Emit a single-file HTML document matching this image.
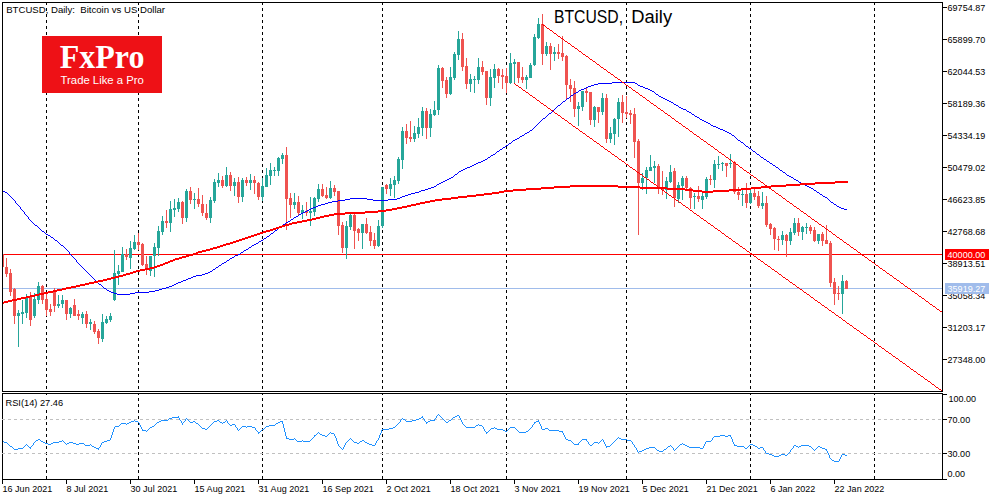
<!DOCTYPE html>
<html><head><meta charset="utf-8"><title>BTCUSD, Daily</title><style>
html,body{margin:0;padding:0;background:#fff;overflow:hidden;width:1000px;height:500px;}
svg{display:block;}
</style></head><body>
<svg width="1000" height="500" viewBox="0 0 1000 500">
<rect width="1000" height="500" fill="#fff"/>
<g shape-rendering="crispEdges" fill="none" stroke="#000" stroke-width="1">
<rect x="2.5" y="2.5" width="940" height="389"/>
<rect x="2.5" y="393.5" width="940" height="86"/>
</g>
<g shape-rendering="crispEdges" stroke="#000" stroke-width="1" stroke-dasharray="3 3">
<line x1="46.5" y1="2" x2="46.5" y2="391"/>
<line x1="46.5" y1="393" x2="46.5" y2="479" stroke-dashoffset="1"/>
<line x1="138.5" y1="2" x2="138.5" y2="391"/>
<line x1="138.5" y1="393" x2="138.5" y2="479" stroke-dashoffset="1"/>
<line x1="262.5" y1="2" x2="262.5" y2="391"/>
<line x1="262.5" y1="393" x2="262.5" y2="479" stroke-dashoffset="1"/>
<line x1="382.5" y1="2" x2="382.5" y2="391"/>
<line x1="382.5" y1="393" x2="382.5" y2="479" stroke-dashoffset="1"/>
<line x1="506.5" y1="2" x2="506.5" y2="391"/>
<line x1="506.5" y1="393" x2="506.5" y2="479" stroke-dashoffset="1"/>
<line x1="626.5" y1="2" x2="626.5" y2="391"/>
<line x1="626.5" y1="393" x2="626.5" y2="479" stroke-dashoffset="1"/>
<line x1="750.5" y1="2" x2="750.5" y2="391"/>
<line x1="750.5" y1="393" x2="750.5" y2="479" stroke-dashoffset="1"/>
<line x1="874.5" y1="2" x2="874.5" y2="391"/>
<line x1="874.5" y1="393" x2="874.5" y2="479" stroke-dashoffset="1"/>
</g>
<g shape-rendering="crispEdges" stroke="#C0C0C0" stroke-width="1" stroke-dasharray="3 3">
<line x1="2" y1="419.5" x2="942" y2="419.5"/>
<line x1="2" y1="453.5" x2="942" y2="453.5"/>
</g>
<g shape-rendering="crispEdges" stroke-width="1">
<line x1="3" y1="254.5" x2="942" y2="254.5" stroke="#FF0000"/>
<line x1="3" y1="288.5" x2="942" y2="288.5" stroke="#A0BCEB"/>
</g>
<defs><clipPath id="mp"><rect x="3" y="3" width="939" height="388"/></clipPath></defs>
<g shape-rendering="crispEdges" clip-path="url(#mp)">
<rect x="2" y="254" width="1" height="13" fill="#EF5350"/>
<rect x="1" y="254" width="3" height="13" fill="#EF5350"/>
<rect x="6" y="258" width="1" height="19" fill="#EF5350"/>
<rect x="5" y="267" width="3" height="7" fill="#EF5350"/>
<rect x="10" y="269" width="1" height="27" fill="#EF5350"/>
<rect x="9" y="273" width="3" height="19" fill="#EF5350"/>
<rect x="14" y="288" width="1" height="36" fill="#EF5350"/>
<rect x="13" y="289" width="3" height="27" fill="#EF5350"/>
<rect x="18" y="310" width="1" height="37" fill="#26A69A"/>
<rect x="17" y="313" width="3" height="3" fill="#26A69A"/>
<rect x="22" y="300" width="1" height="24" fill="#26A69A"/>
<rect x="21" y="312" width="3" height="2" fill="#26A69A"/>
<rect x="26" y="294" width="1" height="24" fill="#26A69A"/>
<rect x="25" y="298" width="3" height="15" fill="#26A69A"/>
<rect x="30" y="292" width="1" height="34" fill="#EF5350"/>
<rect x="29" y="297" width="3" height="23" fill="#EF5350"/>
<rect x="34" y="293" width="1" height="25" fill="#26A69A"/>
<rect x="33" y="299" width="3" height="17" fill="#26A69A"/>
<rect x="38" y="282" width="1" height="22" fill="#26A69A"/>
<rect x="37" y="286" width="3" height="14" fill="#26A69A"/>
<rect x="42" y="285" width="1" height="19" fill="#EF5350"/>
<rect x="41" y="286" width="3" height="14" fill="#EF5350"/>
<rect x="46" y="293" width="1" height="23" fill="#EF5350"/>
<rect x="45" y="299" width="3" height="11" fill="#EF5350"/>
<rect x="50" y="304" width="1" height="12" fill="#EF5350"/>
<rect x="49" y="309" width="3" height="3" fill="#EF5350"/>
<rect x="54" y="288" width="1" height="24" fill="#EF5350"/>
<rect x="53" y="292" width="3" height="14" fill="#EF5350"/>
<rect x="58" y="295" width="1" height="13" fill="#26A69A"/>
<rect x="57" y="304" width="3" height="2" fill="#26A69A"/>
<rect x="62" y="295" width="1" height="13" fill="#26A69A"/>
<rect x="61" y="300" width="3" height="4" fill="#26A69A"/>
<rect x="66" y="300" width="1" height="20" fill="#EF5350"/>
<rect x="65" y="300" width="3" height="14" fill="#EF5350"/>
<rect x="70" y="307" width="1" height="11" fill="#26A69A"/>
<rect x="69" y="308" width="3" height="6" fill="#26A69A"/>
<rect x="74" y="299" width="1" height="17" fill="#EF5350"/>
<rect x="73" y="305" width="3" height="11" fill="#EF5350"/>
<rect x="78" y="310" width="1" height="10" fill="#EF5350"/>
<rect x="77" y="314" width="3" height="2" fill="#EF5350"/>
<rect x="82" y="312" width="1" height="12" fill="#26A69A"/>
<rect x="81" y="314" width="3" height="4" fill="#26A69A"/>
<rect x="86" y="311" width="1" height="17" fill="#EF5350"/>
<rect x="85" y="314" width="3" height="10" fill="#EF5350"/>
<rect x="90" y="319" width="1" height="11" fill="#26A69A"/>
<rect x="89" y="322" width="3" height="2" fill="#26A69A"/>
<rect x="94" y="321" width="1" height="13" fill="#EF5350"/>
<rect x="93" y="324" width="3" height="8" fill="#EF5350"/>
<rect x="98" y="329" width="1" height="15" fill="#EF5350"/>
<rect x="97" y="331" width="3" height="7" fill="#EF5350"/>
<rect x="102" y="314" width="1" height="28" fill="#26A69A"/>
<rect x="101" y="322" width="3" height="17" fill="#26A69A"/>
<rect x="106" y="316" width="1" height="8" fill="#26A69A"/>
<rect x="105" y="319" width="3" height="4" fill="#26A69A"/>
<rect x="110" y="313" width="1" height="9" fill="#26A69A"/>
<rect x="109" y="316" width="3" height="4" fill="#26A69A"/>
<rect x="114" y="250" width="1" height="51" fill="#26A69A"/>
<rect x="113" y="273" width="3" height="27" fill="#26A69A"/>
<rect x="118" y="265" width="1" height="20" fill="#26A69A"/>
<rect x="117" y="271" width="3" height="3" fill="#26A69A"/>
<rect x="122" y="247" width="1" height="25" fill="#26A69A"/>
<rect x="121" y="254" width="3" height="18" fill="#26A69A"/>
<rect x="126" y="249" width="1" height="11" fill="#EF5350"/>
<rect x="125" y="254" width="3" height="3" fill="#EF5350"/>
<rect x="130" y="241" width="1" height="28" fill="#26A69A"/>
<rect x="129" y="248" width="3" height="10" fill="#26A69A"/>
<rect x="134" y="235" width="1" height="15" fill="#26A69A"/>
<rect x="133" y="242" width="3" height="7" fill="#26A69A"/>
<rect x="138" y="233" width="1" height="17" fill="#EF5350"/>
<rect x="137" y="242" width="3" height="3" fill="#EF5350"/>
<rect x="142" y="243" width="1" height="23" fill="#EF5350"/>
<rect x="141" y="244" width="3" height="21" fill="#EF5350"/>
<rect x="146" y="256" width="1" height="19" fill="#EF5350"/>
<rect x="145" y="264" width="3" height="4" fill="#EF5350"/>
<rect x="150" y="256" width="1" height="20" fill="#26A69A"/>
<rect x="149" y="256" width="3" height="15" fill="#26A69A"/>
<rect x="154" y="243" width="1" height="34" fill="#26A69A"/>
<rect x="153" y="247" width="3" height="9" fill="#26A69A"/>
<rect x="158" y="226" width="1" height="30" fill="#26A69A"/>
<rect x="157" y="231" width="3" height="17" fill="#26A69A"/>
<rect x="162" y="216" width="1" height="19" fill="#26A69A"/>
<rect x="161" y="221" width="3" height="11" fill="#26A69A"/>
<rect x="166" y="210" width="1" height="18" fill="#EF5350"/>
<rect x="165" y="221" width="3" height="2" fill="#EF5350"/>
<rect x="170" y="201" width="1" height="31" fill="#26A69A"/>
<rect x="169" y="209" width="3" height="14" fill="#26A69A"/>
<rect x="174" y="199" width="1" height="18" fill="#26A69A"/>
<rect x="173" y="208" width="3" height="2" fill="#26A69A"/>
<rect x="178" y="198" width="1" height="14" fill="#26A69A"/>
<rect x="177" y="202" width="3" height="7" fill="#26A69A"/>
<rect x="182" y="201" width="1" height="23" fill="#EF5350"/>
<rect x="181" y="202" width="3" height="16" fill="#EF5350"/>
<rect x="186" y="189" width="1" height="33" fill="#26A69A"/>
<rect x="185" y="191" width="3" height="27" fill="#26A69A"/>
<rect x="190" y="187" width="1" height="17" fill="#EF5350"/>
<rect x="189" y="191" width="3" height="9" fill="#EF5350"/>
<rect x="194" y="193" width="1" height="16" fill="#26A69A"/>
<rect x="193" y="199" width="3" height="1" fill="#26A69A"/>
<rect x="198" y="188" width="1" height="19" fill="#EF5350"/>
<rect x="197" y="199" width="3" height="5" fill="#EF5350"/>
<rect x="202" y="195" width="1" height="21" fill="#EF5350"/>
<rect x="201" y="204" width="3" height="9" fill="#EF5350"/>
<rect x="206" y="204" width="1" height="16" fill="#EF5350"/>
<rect x="205" y="213" width="3" height="5" fill="#EF5350"/>
<rect x="210" y="197" width="1" height="26" fill="#26A69A"/>
<rect x="209" y="200" width="3" height="18" fill="#26A69A"/>
<rect x="214" y="179" width="1" height="24" fill="#26A69A"/>
<rect x="213" y="182" width="3" height="19" fill="#26A69A"/>
<rect x="218" y="173" width="1" height="14" fill="#26A69A"/>
<rect x="217" y="180" width="3" height="3" fill="#26A69A"/>
<rect x="222" y="176" width="1" height="12" fill="#EF5350"/>
<rect x="221" y="180" width="3" height="6" fill="#EF5350"/>
<rect x="226" y="167" width="1" height="20" fill="#26A69A"/>
<rect x="225" y="175" width="3" height="11" fill="#26A69A"/>
<rect x="230" y="172" width="1" height="19" fill="#EF5350"/>
<rect x="229" y="175" width="3" height="11" fill="#EF5350"/>
<rect x="234" y="178" width="1" height="18" fill="#26A69A"/>
<rect x="233" y="182" width="3" height="4" fill="#26A69A"/>
<rect x="238" y="177" width="1" height="26" fill="#EF5350"/>
<rect x="237" y="182" width="3" height="15" fill="#EF5350"/>
<rect x="242" y="178" width="1" height="24" fill="#26A69A"/>
<rect x="241" y="180" width="3" height="17" fill="#26A69A"/>
<rect x="246" y="177" width="1" height="9" fill="#EF5350"/>
<rect x="245" y="180" width="3" height="3" fill="#EF5350"/>
<rect x="250" y="174" width="1" height="16" fill="#26A69A"/>
<rect x="249" y="180" width="3" height="3" fill="#26A69A"/>
<rect x="254" y="176" width="1" height="18" fill="#EF5350"/>
<rect x="253" y="180" width="3" height="3" fill="#EF5350"/>
<rect x="258" y="182" width="1" height="18" fill="#EF5350"/>
<rect x="257" y="183" width="3" height="14" fill="#EF5350"/>
<rect x="262" y="178" width="1" height="23" fill="#26A69A"/>
<rect x="261" y="186" width="3" height="11" fill="#26A69A"/>
<rect x="266" y="168" width="1" height="19" fill="#26A69A"/>
<rect x="265" y="175" width="3" height="12" fill="#26A69A"/>
<rect x="270" y="163" width="1" height="22" fill="#26A69A"/>
<rect x="269" y="170" width="3" height="6" fill="#26A69A"/>
<rect x="274" y="167" width="1" height="9" fill="#26A69A"/>
<rect x="273" y="170" width="3" height="1" fill="#26A69A"/>
<rect x="278" y="157" width="1" height="19" fill="#26A69A"/>
<rect x="277" y="158" width="3" height="13" fill="#26A69A"/>
<rect x="282" y="153" width="1" height="11" fill="#26A69A"/>
<rect x="281" y="155" width="3" height="4" fill="#26A69A"/>
<rect x="286" y="147" width="1" height="83" fill="#EF5350"/>
<rect x="285" y="155" width="3" height="44" fill="#EF5350"/>
<rect x="290" y="193" width="1" height="25" fill="#EF5350"/>
<rect x="289" y="198" width="3" height="7" fill="#EF5350"/>
<rect x="294" y="193" width="1" height="16" fill="#26A69A"/>
<rect x="293" y="202" width="3" height="3" fill="#26A69A"/>
<rect x="298" y="196" width="1" height="19" fill="#EF5350"/>
<rect x="297" y="202" width="3" height="11" fill="#EF5350"/>
<rect x="302" y="205" width="1" height="14" fill="#26A69A"/>
<rect x="301" y="210" width="3" height="3" fill="#26A69A"/>
<rect x="306" y="202" width="1" height="14" fill="#EF5350"/>
<rect x="305" y="211" width="3" height="2" fill="#EF5350"/>
<rect x="310" y="197" width="1" height="29" fill="#26A69A"/>
<rect x="309" y="211" width="3" height="2" fill="#26A69A"/>
<rect x="314" y="197" width="1" height="19" fill="#26A69A"/>
<rect x="313" y="198" width="3" height="14" fill="#26A69A"/>
<rect x="318" y="184" width="1" height="18" fill="#26A69A"/>
<rect x="317" y="189" width="3" height="10" fill="#26A69A"/>
<rect x="322" y="184" width="1" height="13" fill="#EF5350"/>
<rect x="321" y="189" width="3" height="7" fill="#EF5350"/>
<rect x="326" y="187" width="1" height="12" fill="#EF5350"/>
<rect x="325" y="195" width="3" height="3" fill="#EF5350"/>
<rect x="330" y="181" width="1" height="18" fill="#26A69A"/>
<rect x="329" y="188" width="3" height="10" fill="#26A69A"/>
<rect x="334" y="185" width="1" height="11" fill="#EF5350"/>
<rect x="333" y="188" width="3" height="4" fill="#EF5350"/>
<rect x="338" y="191" width="1" height="44" fill="#EF5350"/>
<rect x="337" y="191" width="3" height="35" fill="#EF5350"/>
<rect x="342" y="222" width="1" height="31" fill="#EF5350"/>
<rect x="341" y="225" width="3" height="23" fill="#EF5350"/>
<rect x="346" y="221" width="1" height="38" fill="#26A69A"/>
<rect x="345" y="226" width="3" height="22" fill="#26A69A"/>
<rect x="350" y="214" width="1" height="16" fill="#26A69A"/>
<rect x="349" y="215" width="3" height="12" fill="#26A69A"/>
<rect x="354" y="214" width="1" height="35" fill="#EF5350"/>
<rect x="353" y="215" width="3" height="16" fill="#EF5350"/>
<rect x="358" y="228" width="1" height="13" fill="#EF5350"/>
<rect x="357" y="229" width="3" height="4" fill="#EF5350"/>
<rect x="362" y="224" width="1" height="25" fill="#26A69A"/>
<rect x="361" y="224" width="3" height="9" fill="#26A69A"/>
<rect x="366" y="218" width="1" height="16" fill="#EF5350"/>
<rect x="365" y="224" width="3" height="9" fill="#EF5350"/>
<rect x="370" y="226" width="1" height="20" fill="#EF5350"/>
<rect x="369" y="232" width="3" height="9" fill="#EF5350"/>
<rect x="374" y="233" width="1" height="16" fill="#EF5350"/>
<rect x="373" y="240" width="3" height="6" fill="#EF5350"/>
<rect x="378" y="220" width="1" height="27" fill="#26A69A"/>
<rect x="377" y="226" width="3" height="20" fill="#26A69A"/>
<rect x="382" y="187" width="1" height="41" fill="#26A69A"/>
<rect x="381" y="187" width="3" height="39" fill="#26A69A"/>
<rect x="386" y="184" width="1" height="10" fill="#EF5350"/>
<rect x="385" y="185" width="3" height="4" fill="#EF5350"/>
<rect x="390" y="178" width="1" height="18" fill="#26A69A"/>
<rect x="389" y="184" width="3" height="5" fill="#26A69A"/>
<rect x="394" y="176" width="1" height="22" fill="#26A69A"/>
<rect x="393" y="180" width="3" height="5" fill="#26A69A"/>
<rect x="398" y="157" width="1" height="27" fill="#26A69A"/>
<rect x="397" y="159" width="3" height="22" fill="#26A69A"/>
<rect x="402" y="127" width="1" height="42" fill="#26A69A"/>
<rect x="401" y="131" width="3" height="29" fill="#26A69A"/>
<rect x="406" y="124" width="1" height="20" fill="#EF5350"/>
<rect x="405" y="131" width="3" height="7" fill="#EF5350"/>
<rect x="410" y="121" width="1" height="21" fill="#EF5350"/>
<rect x="409" y="137" width="3" height="2" fill="#EF5350"/>
<rect x="414" y="126" width="1" height="16" fill="#26A69A"/>
<rect x="413" y="133" width="3" height="6" fill="#26A69A"/>
<rect x="418" y="118" width="1" height="20" fill="#26A69A"/>
<rect x="417" y="127" width="3" height="7" fill="#26A69A"/>
<rect x="422" y="107" width="1" height="29" fill="#26A69A"/>
<rect x="421" y="111" width="3" height="17" fill="#26A69A"/>
<rect x="426" y="108" width="1" height="31" fill="#EF5350"/>
<rect x="425" y="111" width="3" height="17" fill="#EF5350"/>
<rect x="430" y="109" width="1" height="28" fill="#26A69A"/>
<rect x="429" y="114" width="3" height="14" fill="#26A69A"/>
<rect x="434" y="101" width="1" height="15" fill="#26A69A"/>
<rect x="433" y="110" width="3" height="5" fill="#26A69A"/>
<rect x="438" y="65" width="1" height="50" fill="#26A69A"/>
<rect x="437" y="68" width="3" height="42" fill="#26A69A"/>
<rect x="442" y="67" width="1" height="21" fill="#EF5350"/>
<rect x="441" y="68" width="3" height="13" fill="#EF5350"/>
<rect x="446" y="77" width="1" height="21" fill="#EF5350"/>
<rect x="445" y="80" width="3" height="14" fill="#EF5350"/>
<rect x="450" y="67" width="1" height="28" fill="#26A69A"/>
<rect x="449" y="77" width="3" height="17" fill="#26A69A"/>
<rect x="454" y="52" width="1" height="28" fill="#26A69A"/>
<rect x="453" y="54" width="3" height="24" fill="#26A69A"/>
<rect x="458" y="31" width="1" height="29" fill="#26A69A"/>
<rect x="457" y="39" width="3" height="16" fill="#26A69A"/>
<rect x="462" y="33" width="1" height="38" fill="#EF5350"/>
<rect x="461" y="39" width="3" height="28" fill="#EF5350"/>
<rect x="466" y="58" width="1" height="31" fill="#EF5350"/>
<rect x="465" y="66" width="3" height="18" fill="#EF5350"/>
<rect x="470" y="74" width="1" height="18" fill="#26A69A"/>
<rect x="469" y="79" width="3" height="5" fill="#26A69A"/>
<rect x="474" y="76" width="1" height="17" fill="#26A69A"/>
<rect x="473" y="79" width="3" height="1" fill="#26A69A"/>
<rect x="478" y="58" width="1" height="26" fill="#26A69A"/>
<rect x="477" y="67" width="3" height="13" fill="#26A69A"/>
<rect x="482" y="61" width="1" height="14" fill="#EF5350"/>
<rect x="481" y="67" width="3" height="5" fill="#EF5350"/>
<rect x="486" y="71" width="1" height="34" fill="#EF5350"/>
<rect x="485" y="71" width="3" height="27" fill="#EF5350"/>
<rect x="490" y="69" width="1" height="37" fill="#26A69A"/>
<rect x="489" y="77" width="3" height="21" fill="#26A69A"/>
<rect x="494" y="64" width="1" height="24" fill="#26A69A"/>
<rect x="493" y="69" width="3" height="9" fill="#26A69A"/>
<rect x="498" y="68" width="1" height="15" fill="#EF5350"/>
<rect x="497" y="69" width="3" height="7" fill="#EF5350"/>
<rect x="502" y="69" width="1" height="20" fill="#EF5350"/>
<rect x="501" y="75" width="3" height="2" fill="#EF5350"/>
<rect x="506" y="68" width="1" height="25" fill="#EF5350"/>
<rect x="505" y="76" width="3" height="7" fill="#EF5350"/>
<rect x="510" y="53" width="1" height="31" fill="#26A69A"/>
<rect x="509" y="63" width="3" height="20" fill="#26A69A"/>
<rect x="514" y="59" width="1" height="24" fill="#26A69A"/>
<rect x="513" y="62" width="3" height="2" fill="#26A69A"/>
<rect x="518" y="62" width="1" height="21" fill="#EF5350"/>
<rect x="517" y="62" width="3" height="16" fill="#EF5350"/>
<rect x="522" y="67" width="1" height="16" fill="#EF5350"/>
<rect x="521" y="77" width="3" height="3" fill="#EF5350"/>
<rect x="526" y="75" width="1" height="14" fill="#26A69A"/>
<rect x="525" y="77" width="3" height="3" fill="#26A69A"/>
<rect x="530" y="63" width="1" height="15" fill="#26A69A"/>
<rect x="529" y="65" width="3" height="13" fill="#26A69A"/>
<rect x="534" y="34" width="1" height="32" fill="#26A69A"/>
<rect x="533" y="37" width="3" height="28" fill="#26A69A"/>
<rect x="538" y="18" width="1" height="21" fill="#26A69A"/>
<rect x="537" y="24" width="3" height="14" fill="#26A69A"/>
<rect x="542" y="14" width="1" height="51" fill="#EF5350"/>
<rect x="541" y="24" width="3" height="30" fill="#EF5350"/>
<rect x="546" y="42" width="1" height="14" fill="#26A69A"/>
<rect x="545" y="46" width="3" height="8" fill="#26A69A"/>
<rect x="550" y="43" width="1" height="27" fill="#EF5350"/>
<rect x="549" y="46" width="3" height="8" fill="#EF5350"/>
<rect x="554" y="47" width="1" height="14" fill="#26A69A"/>
<rect x="553" y="52" width="3" height="2" fill="#26A69A"/>
<rect x="558" y="44" width="1" height="15" fill="#EF5350"/>
<rect x="557" y="52" width="3" height="2" fill="#EF5350"/>
<rect x="562" y="36" width="1" height="25" fill="#EF5350"/>
<rect x="561" y="53" width="3" height="4" fill="#EF5350"/>
<rect x="566" y="55" width="1" height="45" fill="#EF5350"/>
<rect x="565" y="56" width="3" height="29" fill="#EF5350"/>
<rect x="570" y="79" width="1" height="23" fill="#EF5350"/>
<rect x="569" y="85" width="3" height="4" fill="#EF5350"/>
<rect x="574" y="81" width="1" height="36" fill="#EF5350"/>
<rect x="573" y="88" width="3" height="21" fill="#EF5350"/>
<rect x="578" y="102" width="1" height="24" fill="#26A69A"/>
<rect x="577" y="106" width="3" height="3" fill="#26A69A"/>
<rect x="582" y="91" width="1" height="20" fill="#26A69A"/>
<rect x="581" y="91" width="3" height="16" fill="#26A69A"/>
<rect x="586" y="88" width="1" height="14" fill="#EF5350"/>
<rect x="585" y="91" width="3" height="2" fill="#EF5350"/>
<rect x="590" y="92" width="1" height="33" fill="#EF5350"/>
<rect x="589" y="92" width="3" height="28" fill="#EF5350"/>
<rect x="594" y="106" width="1" height="21" fill="#26A69A"/>
<rect x="593" y="107" width="3" height="13" fill="#26A69A"/>
<rect x="598" y="107" width="1" height="16" fill="#EF5350"/>
<rect x="597" y="107" width="3" height="5" fill="#EF5350"/>
<rect x="602" y="93" width="1" height="22" fill="#26A69A"/>
<rect x="601" y="98" width="3" height="14" fill="#26A69A"/>
<rect x="606" y="94" width="1" height="49" fill="#EF5350"/>
<rect x="605" y="98" width="3" height="41" fill="#EF5350"/>
<rect x="610" y="127" width="1" height="16" fill="#26A69A"/>
<rect x="609" y="133" width="3" height="6" fill="#26A69A"/>
<rect x="614" y="118" width="1" height="27" fill="#26A69A"/>
<rect x="613" y="119" width="3" height="15" fill="#26A69A"/>
<rect x="618" y="98" width="1" height="39" fill="#26A69A"/>
<rect x="617" y="102" width="3" height="17" fill="#26A69A"/>
<rect x="622" y="95" width="1" height="28" fill="#EF5350"/>
<rect x="621" y="102" width="3" height="11" fill="#EF5350"/>
<rect x="626" y="96" width="1" height="22" fill="#EF5350"/>
<rect x="625" y="112" width="3" height="2" fill="#EF5350"/>
<rect x="630" y="110" width="1" height="14" fill="#EF5350"/>
<rect x="629" y="113" width="3" height="2" fill="#EF5350"/>
<rect x="634" y="108" width="1" height="50" fill="#EF5350"/>
<rect x="633" y="114" width="3" height="28" fill="#EF5350"/>
<rect x="638" y="139" width="1" height="96" fill="#EF5350"/>
<rect x="637" y="141" width="3" height="42" fill="#EF5350"/>
<rect x="642" y="173" width="1" height="17" fill="#26A69A"/>
<rect x="641" y="178" width="3" height="5" fill="#26A69A"/>
<rect x="646" y="167" width="1" height="27" fill="#26A69A"/>
<rect x="645" y="170" width="3" height="8" fill="#26A69A"/>
<rect x="650" y="155" width="1" height="16" fill="#26A69A"/>
<rect x="649" y="167" width="3" height="4" fill="#26A69A"/>
<rect x="654" y="161" width="1" height="22" fill="#26A69A"/>
<rect x="653" y="166" width="3" height="2" fill="#26A69A"/>
<rect x="658" y="164" width="1" height="30" fill="#EF5350"/>
<rect x="657" y="166" width="3" height="21" fill="#EF5350"/>
<rect x="662" y="171" width="1" height="24" fill="#EF5350"/>
<rect x="661" y="188" width="3" height="2" fill="#EF5350"/>
<rect x="666" y="177" width="1" height="22" fill="#26A69A"/>
<rect x="665" y="181" width="3" height="9" fill="#26A69A"/>
<rect x="670" y="165" width="1" height="18" fill="#26A69A"/>
<rect x="669" y="172" width="3" height="10" fill="#26A69A"/>
<rect x="674" y="168" width="1" height="39" fill="#EF5350"/>
<rect x="673" y="171" width="3" height="27" fill="#EF5350"/>
<rect x="678" y="182" width="1" height="21" fill="#26A69A"/>
<rect x="677" y="185" width="3" height="14" fill="#26A69A"/>
<rect x="682" y="176" width="1" height="24" fill="#26A69A"/>
<rect x="681" y="178" width="3" height="8" fill="#26A69A"/>
<rect x="686" y="176" width="1" height="13" fill="#EF5350"/>
<rect x="685" y="178" width="3" height="10" fill="#EF5350"/>
<rect x="690" y="187" width="1" height="22" fill="#EF5350"/>
<rect x="689" y="188" width="3" height="10" fill="#EF5350"/>
<rect x="694" y="193" width="1" height="16" fill="#26A69A"/>
<rect x="693" y="196" width="3" height="1" fill="#26A69A"/>
<rect x="698" y="186" width="1" height="16" fill="#EF5350"/>
<rect x="697" y="196" width="3" height="3" fill="#EF5350"/>
<rect x="702" y="193" width="1" height="16" fill="#26A69A"/>
<rect x="701" y="196" width="3" height="4" fill="#26A69A"/>
<rect x="706" y="177" width="1" height="22" fill="#26A69A"/>
<rect x="705" y="179" width="3" height="18" fill="#26A69A"/>
<rect x="710" y="175" width="1" height="10" fill="#EF5350"/>
<rect x="709" y="179" width="3" height="1" fill="#EF5350"/>
<rect x="714" y="160" width="1" height="28" fill="#26A69A"/>
<rect x="713" y="164" width="3" height="16" fill="#26A69A"/>
<rect x="718" y="156" width="1" height="13" fill="#26A69A"/>
<rect x="717" y="164" width="3" height="1" fill="#26A69A"/>
<rect x="722" y="162" width="1" height="9" fill="#26A69A"/>
<rect x="721" y="163" width="3" height="1" fill="#26A69A"/>
<rect x="726" y="163" width="1" height="14" fill="#EF5350"/>
<rect x="725" y="163" width="3" height="3" fill="#EF5350"/>
<rect x="730" y="154" width="1" height="14" fill="#26A69A"/>
<rect x="729" y="163" width="3" height="1" fill="#26A69A"/>
<rect x="734" y="161" width="1" height="33" fill="#EF5350"/>
<rect x="733" y="162" width="3" height="30" fill="#EF5350"/>
<rect x="738" y="187" width="1" height="13" fill="#EF5350"/>
<rect x="737" y="192" width="3" height="3" fill="#EF5350"/>
<rect x="742" y="190" width="1" height="16" fill="#26A69A"/>
<rect x="741" y="194" width="3" height="1" fill="#26A69A"/>
<rect x="746" y="183" width="1" height="25" fill="#EF5350"/>
<rect x="745" y="194" width="3" height="9" fill="#EF5350"/>
<rect x="750" y="189" width="1" height="15" fill="#26A69A"/>
<rect x="749" y="193" width="3" height="10" fill="#26A69A"/>
<rect x="754" y="189" width="1" height="11" fill="#EF5350"/>
<rect x="753" y="193" width="3" height="4" fill="#EF5350"/>
<rect x="758" y="191" width="1" height="17" fill="#EF5350"/>
<rect x="757" y="196" width="3" height="10" fill="#EF5350"/>
<rect x="762" y="192" width="1" height="17" fill="#26A69A"/>
<rect x="761" y="203" width="3" height="3" fill="#26A69A"/>
<rect x="766" y="196" width="1" height="31" fill="#EF5350"/>
<rect x="765" y="203" width="3" height="22" fill="#EF5350"/>
<rect x="770" y="223" width="1" height="12" fill="#EF5350"/>
<rect x="769" y="224" width="3" height="5" fill="#EF5350"/>
<rect x="774" y="227" width="1" height="23" fill="#EF5350"/>
<rect x="773" y="228" width="3" height="11" fill="#EF5350"/>
<rect x="778" y="236" width="1" height="15" fill="#EF5350"/>
<rect x="777" y="239" width="3" height="1" fill="#EF5350"/>
<rect x="782" y="231" width="1" height="14" fill="#26A69A"/>
<rect x="781" y="235" width="3" height="5" fill="#26A69A"/>
<rect x="786" y="234" width="1" height="23" fill="#EF5350"/>
<rect x="785" y="235" width="3" height="6" fill="#EF5350"/>
<rect x="790" y="228" width="1" height="17" fill="#26A69A"/>
<rect x="789" y="232" width="3" height="9" fill="#26A69A"/>
<rect x="794" y="218" width="1" height="17" fill="#26A69A"/>
<rect x="793" y="223" width="3" height="10" fill="#26A69A"/>
<rect x="798" y="218" width="1" height="18" fill="#EF5350"/>
<rect x="797" y="223" width="3" height="9" fill="#EF5350"/>
<rect x="802" y="226" width="1" height="14" fill="#26A69A"/>
<rect x="801" y="227" width="3" height="5" fill="#26A69A"/>
<rect x="806" y="223" width="1" height="11" fill="#26A69A"/>
<rect x="805" y="227" width="3" height="1" fill="#26A69A"/>
<rect x="810" y="225" width="1" height="9" fill="#EF5350"/>
<rect x="809" y="227" width="3" height="4" fill="#EF5350"/>
<rect x="814" y="227" width="1" height="15" fill="#EF5350"/>
<rect x="813" y="230" width="3" height="11" fill="#EF5350"/>
<rect x="818" y="234" width="1" height="10" fill="#26A69A"/>
<rect x="817" y="234" width="3" height="7" fill="#26A69A"/>
<rect x="822" y="232" width="1" height="14" fill="#EF5350"/>
<rect x="821" y="234" width="3" height="7" fill="#EF5350"/>
<rect x="826" y="225" width="1" height="19" fill="#EF5350"/>
<rect x="825" y="240" width="3" height="4" fill="#EF5350"/>
<rect x="830" y="241" width="1" height="46" fill="#EF5350"/>
<rect x="829" y="243" width="3" height="40" fill="#EF5350"/>
<rect x="834" y="278" width="1" height="27" fill="#EF5350"/>
<rect x="833" y="282" width="3" height="12" fill="#EF5350"/>
<rect x="838" y="286" width="1" height="14" fill="#EF5350"/>
<rect x="837" y="293" width="3" height="1" fill="#EF5350"/>
<rect x="842" y="275" width="1" height="39" fill="#26A69A"/>
<rect x="841" y="281" width="3" height="13" fill="#26A69A"/>
<rect x="846" y="280" width="1" height="9" fill="#EF5350"/>
<rect x="845" y="281" width="3" height="8" fill="#EF5350"/>
</g>
<g fill="#0000FF" shape-rendering="crispEdges"><rect x="612" y="82" width="23" height="1"/><rect x="598" y="83" width="14" height="1"/><rect x="635" y="83" width="2" height="1"/><rect x="594" y="84" width="4" height="1"/><rect x="637" y="84" width="1" height="1"/><rect x="591" y="85" width="3" height="1"/><rect x="638" y="85" width="2" height="1"/><rect x="588" y="86" width="3" height="1"/><rect x="640" y="86" width="3" height="1"/><rect x="586" y="87" width="2" height="1"/><rect x="643" y="87" width="2" height="1"/><rect x="584" y="88" width="2" height="1"/><rect x="645" y="88" width="3" height="1"/><rect x="581" y="89" width="3" height="1"/><rect x="648" y="89" width="2" height="1"/><rect x="579" y="90" width="2" height="1"/><rect x="650" y="90" width="2" height="1"/><rect x="578" y="91" width="1" height="1"/><rect x="652" y="91" width="2" height="1"/><rect x="576" y="92" width="2" height="1"/><rect x="654" y="92" width="1" height="1"/><rect x="574" y="93" width="2" height="1"/><rect x="655" y="93" width="1" height="1"/><rect x="573" y="94" width="1" height="1"/><rect x="656" y="94" width="2" height="1"/><rect x="571" y="95" width="2" height="1"/><rect x="658" y="95" width="1" height="1"/><rect x="570" y="96" width="1" height="1"/><rect x="659" y="96" width="2" height="1"/><rect x="569" y="97" width="1" height="1"/><rect x="661" y="97" width="2" height="1"/><rect x="567" y="98" width="2" height="1"/><rect x="663" y="98" width="2" height="1"/><rect x="566" y="99" width="1" height="1"/><rect x="665" y="99" width="2" height="1"/><rect x="565" y="100" width="1" height="1"/><rect x="667" y="100" width="2" height="1"/><rect x="563" y="101" width="2" height="1"/><rect x="669" y="101" width="2" height="1"/><rect x="562" y="102" width="1" height="1"/><rect x="671" y="102" width="2" height="1"/><rect x="561" y="103" width="1" height="1"/><rect x="673" y="103" width="1" height="1"/><rect x="560" y="104" width="1" height="1"/><rect x="674" y="104" width="2" height="1"/><rect x="558" y="105" width="2" height="1"/><rect x="676" y="105" width="2" height="1"/><rect x="557" y="106" width="1" height="1"/><rect x="678" y="106" width="1" height="1"/><rect x="556" y="107" width="1" height="1"/><rect x="679" y="107" width="2" height="1"/><rect x="555" y="108" width="1" height="1"/><rect x="681" y="108" width="2" height="1"/><rect x="554" y="109" width="1" height="1"/><rect x="683" y="109" width="3" height="1"/><rect x="553" y="110" width="1" height="1"/><rect x="686" y="110" width="1" height="1"/><rect x="552" y="111" width="1" height="1"/><rect x="687" y="111" width="2" height="1"/><rect x="551" y="112" width="1" height="1"/><rect x="689" y="112" width="2" height="1"/><rect x="549" y="113" width="2" height="1"/><rect x="691" y="113" width="1" height="1"/><rect x="548" y="114" width="1" height="1"/><rect x="692" y="114" width="2" height="1"/><rect x="547" y="115" width="1" height="1"/><rect x="694" y="115" width="1" height="1"/><rect x="546" y="116" width="1" height="1"/><rect x="695" y="116" width="2" height="1"/><rect x="545" y="117" width="1" height="1"/><rect x="697" y="117" width="2" height="1"/><rect x="543" y="118" width="2" height="1"/><rect x="699" y="118" width="1" height="1"/><rect x="542" y="119" width="1" height="1"/><rect x="700" y="119" width="2" height="1"/><rect x="541" y="120" width="1" height="1"/><rect x="702" y="120" width="2" height="1"/><rect x="540" y="121" width="1" height="1"/><rect x="704" y="121" width="2" height="1"/><rect x="539" y="122" width="1" height="1"/><rect x="706" y="122" width="2" height="1"/><rect x="538" y="123" width="1" height="1"/><rect x="708" y="123" width="2" height="1"/><rect x="537" y="124" width="1" height="1"/><rect x="710" y="124" width="1" height="1"/><rect x="536" y="125" width="1" height="1"/><rect x="711" y="125" width="2" height="1"/><rect x="535" y="126" width="1" height="1"/><rect x="713" y="126" width="3" height="1"/><rect x="534" y="127" width="1" height="1"/><rect x="716" y="127" width="2" height="1"/><rect x="533" y="128" width="1" height="1"/><rect x="718" y="128" width="2" height="1"/><rect x="532" y="129" width="1" height="1"/><rect x="720" y="129" width="3" height="1"/><rect x="530" y="130" width="2" height="1"/><rect x="723" y="130" width="2" height="1"/><rect x="529" y="131" width="1" height="1"/><rect x="725" y="131" width="2" height="1"/><rect x="527" y="132" width="2" height="1"/><rect x="727" y="132" width="2" height="1"/><rect x="525" y="133" width="2" height="1"/><rect x="729" y="133" width="2" height="1"/><rect x="524" y="134" width="1" height="1"/><rect x="731" y="134" width="1" height="1"/><rect x="522" y="135" width="2" height="1"/><rect x="732" y="135" width="2" height="1"/><rect x="520" y="136" width="2" height="1"/><rect x="734" y="136" width="1" height="1"/><rect x="519" y="137" width="1" height="1"/><rect x="735" y="137" width="1" height="1"/><rect x="517" y="138" width="2" height="1"/><rect x="736" y="138" width="1" height="1"/><rect x="515" y="139" width="2" height="1"/><rect x="737" y="139" width="1" height="1"/><rect x="513" y="140" width="2" height="1"/><rect x="738" y="140" width="2" height="1"/><rect x="512" y="141" width="1" height="1"/><rect x="740" y="141" width="1" height="1"/><rect x="511" y="142" width="1" height="1"/><rect x="741" y="142" width="2" height="1"/><rect x="509" y="143" width="2" height="1"/><rect x="743" y="143" width="1" height="1"/><rect x="508" y="144" width="1" height="1"/><rect x="744" y="144" width="1" height="1"/><rect x="506" y="145" width="2" height="1"/><rect x="745" y="145" width="1" height="1"/><rect x="505" y="146" width="1" height="1"/><rect x="746" y="146" width="2" height="1"/><rect x="503" y="147" width="2" height="1"/><rect x="748" y="147" width="1" height="1"/><rect x="502" y="148" width="1" height="1"/><rect x="749" y="148" width="2" height="1"/><rect x="500" y="149" width="2" height="1"/><rect x="751" y="149" width="1" height="1"/><rect x="499" y="150" width="1" height="1"/><rect x="752" y="150" width="1" height="1"/><rect x="497" y="151" width="2" height="1"/><rect x="753" y="151" width="2" height="1"/><rect x="496" y="152" width="1" height="1"/><rect x="755" y="152" width="1" height="1"/><rect x="495" y="153" width="1" height="1"/><rect x="756" y="153" width="1" height="1"/><rect x="493" y="154" width="2" height="1"/><rect x="757" y="154" width="2" height="1"/><rect x="491" y="155" width="2" height="1"/><rect x="759" y="155" width="1" height="1"/><rect x="490" y="156" width="1" height="1"/><rect x="760" y="156" width="1" height="1"/><rect x="488" y="157" width="2" height="1"/><rect x="761" y="157" width="2" height="1"/><rect x="487" y="158" width="1" height="1"/><rect x="763" y="158" width="1" height="1"/><rect x="485" y="159" width="2" height="1"/><rect x="764" y="159" width="2" height="1"/><rect x="483" y="160" width="2" height="1"/><rect x="766" y="160" width="1" height="1"/><rect x="481" y="161" width="2" height="1"/><rect x="767" y="161" width="2" height="1"/><rect x="478" y="162" width="3" height="1"/><rect x="769" y="162" width="1" height="1"/><rect x="476" y="163" width="2" height="1"/><rect x="770" y="163" width="2" height="1"/><rect x="474" y="164" width="2" height="1"/><rect x="772" y="164" width="1" height="1"/><rect x="472" y="165" width="2" height="1"/><rect x="773" y="165" width="2" height="1"/><rect x="470" y="166" width="2" height="1"/><rect x="775" y="166" width="1" height="1"/><rect x="467" y="167" width="3" height="1"/><rect x="776" y="167" width="2" height="1"/><rect x="465" y="168" width="2" height="1"/><rect x="778" y="168" width="1" height="1"/><rect x="463" y="169" width="2" height="1"/><rect x="779" y="169" width="1" height="1"/><rect x="461" y="170" width="2" height="1"/><rect x="780" y="170" width="2" height="1"/><rect x="459" y="171" width="2" height="1"/><rect x="782" y="171" width="1" height="1"/><rect x="458" y="172" width="1" height="1"/><rect x="783" y="172" width="2" height="1"/><rect x="457" y="173" width="1" height="1"/><rect x="785" y="173" width="1" height="1"/><rect x="455" y="174" width="2" height="1"/><rect x="786" y="174" width="1" height="1"/><rect x="454" y="175" width="1" height="1"/><rect x="787" y="175" width="2" height="1"/><rect x="453" y="176" width="1" height="1"/><rect x="789" y="176" width="2" height="1"/><rect x="451" y="177" width="2" height="1"/><rect x="791" y="177" width="2" height="1"/><rect x="449" y="178" width="2" height="1"/><rect x="793" y="178" width="1" height="1"/><rect x="447" y="179" width="2" height="1"/><rect x="794" y="179" width="2" height="1"/><rect x="445" y="180" width="2" height="1"/><rect x="796" y="180" width="2" height="1"/><rect x="443" y="181" width="2" height="1"/><rect x="798" y="181" width="1" height="1"/><rect x="441" y="182" width="2" height="1"/><rect x="799" y="182" width="2" height="1"/><rect x="439" y="183" width="2" height="1"/><rect x="801" y="183" width="1" height="1"/><rect x="437" y="184" width="2" height="1"/><rect x="802" y="184" width="3" height="1"/><rect x="436" y="185" width="1" height="1"/><rect x="805" y="185" width="2" height="1"/><rect x="434" y="186" width="2" height="1"/><rect x="807" y="186" width="2" height="1"/><rect x="431" y="187" width="3" height="1"/><rect x="809" y="187" width="2" height="1"/><rect x="428" y="188" width="3" height="1"/><rect x="811" y="188" width="2" height="1"/><rect x="425" y="189" width="3" height="1"/><rect x="813" y="189" width="1" height="1"/><rect x="421" y="190" width="4" height="1"/><rect x="814" y="190" width="2" height="1"/><rect x="3" y="191" width="2" height="1"/><rect x="419" y="191" width="2" height="1"/><rect x="816" y="191" width="1" height="1"/><rect x="5" y="192" width="2" height="1"/><rect x="415" y="192" width="4" height="1"/><rect x="817" y="192" width="2" height="1"/><rect x="7" y="193" width="1" height="1"/><rect x="411" y="193" width="4" height="1"/><rect x="819" y="193" width="1" height="1"/><rect x="8" y="194" width="1" height="1"/><rect x="408" y="194" width="3" height="1"/><rect x="820" y="194" width="2" height="1"/><rect x="9" y="195" width="1" height="1"/><rect x="405" y="195" width="3" height="1"/><rect x="822" y="195" width="1" height="1"/><rect x="10" y="196" width="1" height="1"/><rect x="402" y="196" width="3" height="1"/><rect x="823" y="196" width="2" height="1"/><rect x="11" y="197" width="1" height="1"/><rect x="400" y="197" width="2" height="1"/><rect x="825" y="197" width="2" height="1"/><rect x="12" y="198" width="1" height="1"/><rect x="350" y="198" width="17" height="1"/><rect x="397" y="198" width="3" height="1"/><rect x="827" y="198" width="1" height="1"/><rect x="13" y="199" width="1" height="1"/><rect x="345" y="199" width="5" height="1"/><rect x="367" y="199" width="6" height="1"/><rect x="388" y="199" width="9" height="1"/><rect x="828" y="199" width="1" height="1"/><rect x="14" y="200" width="1" height="1"/><rect x="338" y="200" width="7" height="1"/><rect x="373" y="200" width="15" height="1"/><rect x="829" y="200" width="1" height="1"/><rect x="15" y="201" width="1" height="1"/><rect x="332" y="201" width="6" height="1"/><rect x="830" y="201" width="1" height="1"/><rect x="15" y="202" width="1" height="1"/><rect x="328" y="202" width="4" height="1"/><rect x="831" y="202" width="2" height="1"/><rect x="16" y="203" width="1" height="1"/><rect x="325" y="203" width="3" height="1"/><rect x="833" y="203" width="1" height="1"/><rect x="17" y="204" width="1" height="1"/><rect x="321" y="204" width="4" height="1"/><rect x="834" y="204" width="2" height="1"/><rect x="18" y="205" width="1" height="1"/><rect x="318" y="205" width="3" height="1"/><rect x="836" y="205" width="1" height="1"/><rect x="19" y="206" width="1" height="1"/><rect x="316" y="206" width="2" height="1"/><rect x="837" y="206" width="2" height="1"/><rect x="20" y="207" width="1" height="1"/><rect x="313" y="207" width="3" height="1"/><rect x="839" y="207" width="2" height="1"/><rect x="20" y="208" width="1" height="1"/><rect x="311" y="208" width="2" height="1"/><rect x="841" y="208" width="3" height="1"/><rect x="21" y="209" width="1" height="1"/><rect x="309" y="209" width="2" height="1"/><rect x="844" y="209" width="3" height="1"/><rect x="22" y="210" width="1" height="1"/><rect x="307" y="210" width="2" height="1"/><rect x="23" y="211" width="1" height="1"/><rect x="305" y="211" width="2" height="1"/><rect x="24" y="212" width="1" height="1"/><rect x="303" y="212" width="2" height="1"/><rect x="24" y="213" width="1" height="1"/><rect x="301" y="213" width="2" height="1"/><rect x="25" y="214" width="1" height="1"/><rect x="299" y="214" width="2" height="1"/><rect x="26" y="215" width="1" height="1"/><rect x="298" y="215" width="1" height="1"/><rect x="27" y="216" width="1" height="1"/><rect x="296" y="216" width="2" height="1"/><rect x="28" y="217" width="1" height="1"/><rect x="294" y="217" width="2" height="1"/><rect x="28" y="218" width="1" height="1"/><rect x="293" y="218" width="1" height="1"/><rect x="29" y="219" width="1" height="1"/><rect x="291" y="219" width="2" height="1"/><rect x="30" y="220" width="1" height="1"/><rect x="290" y="220" width="1" height="1"/><rect x="31" y="221" width="1" height="1"/><rect x="288" y="221" width="2" height="1"/><rect x="32" y="222" width="1" height="1"/><rect x="286" y="222" width="2" height="1"/><rect x="33" y="223" width="1" height="1"/><rect x="285" y="223" width="1" height="1"/><rect x="34" y="224" width="1" height="1"/><rect x="283" y="224" width="2" height="1"/><rect x="35" y="225" width="2" height="1"/><rect x="282" y="225" width="1" height="1"/><rect x="37" y="226" width="1" height="1"/><rect x="281" y="226" width="1" height="1"/><rect x="38" y="227" width="1" height="1"/><rect x="279" y="227" width="2" height="1"/><rect x="39" y="228" width="1" height="1"/><rect x="278" y="228" width="1" height="1"/><rect x="40" y="229" width="1" height="1"/><rect x="277" y="229" width="1" height="1"/><rect x="41" y="230" width="1" height="1"/><rect x="275" y="230" width="2" height="1"/><rect x="42" y="231" width="2" height="1"/><rect x="274" y="231" width="1" height="1"/><rect x="44" y="232" width="1" height="1"/><rect x="273" y="232" width="1" height="1"/><rect x="45" y="233" width="1" height="1"/><rect x="271" y="233" width="2" height="1"/><rect x="46" y="234" width="2" height="1"/><rect x="270" y="234" width="1" height="1"/><rect x="48" y="235" width="2" height="1"/><rect x="269" y="235" width="1" height="1"/><rect x="50" y="236" width="1" height="1"/><rect x="267" y="236" width="2" height="1"/><rect x="51" y="237" width="2" height="1"/><rect x="266" y="237" width="1" height="1"/><rect x="53" y="238" width="1" height="1"/><rect x="264" y="238" width="2" height="1"/><rect x="54" y="239" width="1" height="1"/><rect x="263" y="239" width="1" height="1"/><rect x="55" y="240" width="2" height="1"/><rect x="261" y="240" width="2" height="1"/><rect x="57" y="241" width="1" height="1"/><rect x="259" y="241" width="2" height="1"/><rect x="58" y="242" width="1" height="1"/><rect x="258" y="242" width="1" height="1"/><rect x="59" y="243" width="1" height="1"/><rect x="256" y="243" width="2" height="1"/><rect x="60" y="244" width="1" height="1"/><rect x="254" y="244" width="2" height="1"/><rect x="61" y="245" width="2" height="1"/><rect x="252" y="245" width="2" height="1"/><rect x="63" y="246" width="1" height="1"/><rect x="251" y="246" width="1" height="1"/><rect x="64" y="247" width="1" height="1"/><rect x="249" y="247" width="2" height="1"/><rect x="65" y="248" width="1" height="1"/><rect x="248" y="248" width="1" height="1"/><rect x="66" y="249" width="1" height="1"/><rect x="246" y="249" width="2" height="1"/><rect x="67" y="250" width="1" height="1"/><rect x="244" y="250" width="2" height="1"/><rect x="68" y="251" width="1" height="1"/><rect x="243" y="251" width="1" height="1"/><rect x="69" y="252" width="1" height="1"/><rect x="241" y="252" width="2" height="1"/><rect x="69" y="253" width="1" height="1"/><rect x="240" y="253" width="1" height="1"/><rect x="70" y="254" width="1" height="1"/><rect x="238" y="254" width="2" height="1"/><rect x="71" y="255" width="1" height="1"/><rect x="235" y="255" width="3" height="1"/><rect x="72" y="256" width="1" height="1"/><rect x="234" y="256" width="1" height="1"/><rect x="73" y="257" width="1" height="1"/><rect x="232" y="257" width="2" height="1"/><rect x="74" y="258" width="1" height="1"/><rect x="230" y="258" width="2" height="1"/><rect x="75" y="259" width="1" height="1"/><rect x="229" y="259" width="1" height="1"/><rect x="76" y="260" width="1" height="1"/><rect x="227" y="260" width="2" height="1"/><rect x="76" y="261" width="1" height="1"/><rect x="226" y="261" width="1" height="1"/><rect x="77" y="262" width="1" height="1"/><rect x="224" y="262" width="2" height="1"/><rect x="78" y="263" width="1" height="1"/><rect x="222" y="263" width="2" height="1"/><rect x="79" y="264" width="1" height="1"/><rect x="221" y="264" width="1" height="1"/><rect x="80" y="265" width="1" height="1"/><rect x="219" y="265" width="2" height="1"/><rect x="81" y="266" width="1" height="1"/><rect x="218" y="266" width="1" height="1"/><rect x="82" y="267" width="1" height="1"/><rect x="216" y="267" width="2" height="1"/><rect x="83" y="268" width="1" height="1"/><rect x="215" y="268" width="1" height="1"/><rect x="84" y="269" width="1" height="1"/><rect x="213" y="269" width="2" height="1"/><rect x="85" y="270" width="1" height="1"/><rect x="212" y="270" width="1" height="1"/><rect x="86" y="271" width="1" height="1"/><rect x="210" y="271" width="2" height="1"/><rect x="87" y="272" width="1" height="1"/><rect x="208" y="272" width="2" height="1"/><rect x="88" y="273" width="1" height="1"/><rect x="205" y="273" width="3" height="1"/><rect x="89" y="274" width="1" height="1"/><rect x="202" y="274" width="3" height="1"/><rect x="90" y="275" width="1" height="1"/><rect x="196" y="275" width="6" height="1"/><rect x="91" y="276" width="1" height="1"/><rect x="193" y="276" width="3" height="1"/><rect x="92" y="277" width="1" height="1"/><rect x="191" y="277" width="2" height="1"/><rect x="93" y="278" width="1" height="1"/><rect x="188" y="278" width="3" height="1"/><rect x="94" y="279" width="1" height="1"/><rect x="186" y="279" width="2" height="1"/><rect x="95" y="280" width="1" height="1"/><rect x="183" y="280" width="3" height="1"/><rect x="96" y="281" width="1" height="1"/><rect x="181" y="281" width="2" height="1"/><rect x="97" y="282" width="1" height="1"/><rect x="178" y="282" width="3" height="1"/><rect x="98" y="283" width="1" height="1"/><rect x="176" y="283" width="2" height="1"/><rect x="99" y="284" width="2" height="1"/><rect x="174" y="284" width="2" height="1"/><rect x="101" y="285" width="1" height="1"/><rect x="172" y="285" width="2" height="1"/><rect x="102" y="286" width="1" height="1"/><rect x="169" y="286" width="3" height="1"/><rect x="103" y="287" width="1" height="1"/><rect x="166" y="287" width="3" height="1"/><rect x="104" y="288" width="2" height="1"/><rect x="162" y="288" width="4" height="1"/><rect x="106" y="289" width="1" height="1"/><rect x="159" y="289" width="3" height="1"/><rect x="107" y="290" width="2" height="1"/><rect x="155" y="290" width="4" height="1"/><rect x="109" y="291" width="2" height="1"/><rect x="149" y="291" width="6" height="1"/><rect x="111" y="292" width="3" height="1"/><rect x="135" y="292" width="14" height="1"/><rect x="114" y="293" width="3" height="1"/><rect x="130" y="293" width="5" height="1"/><rect x="117" y="294" width="13" height="1"/></g>
<g fill="#FF0000" shape-rendering="crispEdges"><rect x="835" y="181" width="13" height="2"/><rect x="815" y="182" width="20" height="2"/><rect x="800" y="183" width="15" height="2"/><rect x="786" y="184" width="14" height="2"/><rect x="570" y="185" width="48" height="2"/><rect x="771" y="185" width="15" height="2"/><rect x="554" y="186" width="16" height="2"/><rect x="618" y="186" width="22" height="2"/><rect x="761" y="186" width="10" height="2"/><rect x="541" y="187" width="13" height="2"/><rect x="640" y="187" width="27" height="2"/><rect x="751" y="187" width="10" height="2"/><rect x="526" y="188" width="15" height="2"/><rect x="667" y="188" width="18" height="2"/><rect x="741" y="188" width="10" height="2"/><rect x="513" y="189" width="13" height="2"/><rect x="685" y="189" width="8" height="2"/><rect x="729" y="189" width="12" height="2"/><rect x="504" y="190" width="9" height="2"/><rect x="693" y="190" width="9" height="2"/><rect x="713" y="190" width="16" height="2"/><rect x="499" y="191" width="5" height="2"/><rect x="702" y="191" width="11" height="2"/><rect x="492" y="192" width="7" height="2"/><rect x="484" y="193" width="8" height="2"/><rect x="476" y="194" width="8" height="2"/><rect x="467" y="195" width="9" height="2"/><rect x="458" y="196" width="9" height="2"/><rect x="451" y="197" width="7" height="2"/><rect x="442" y="198" width="9" height="2"/><rect x="435" y="199" width="7" height="2"/><rect x="430" y="200" width="5" height="2"/><rect x="425" y="201" width="5" height="2"/><rect x="420" y="202" width="5" height="2"/><rect x="416" y="203" width="4" height="2"/><rect x="411" y="204" width="5" height="2"/><rect x="407" y="205" width="4" height="2"/><rect x="402" y="206" width="5" height="2"/><rect x="397" y="207" width="5" height="2"/><rect x="392" y="208" width="5" height="2"/><rect x="386" y="209" width="6" height="2"/><rect x="378" y="210" width="8" height="2"/><rect x="365" y="211" width="13" height="2"/><rect x="345" y="212" width="20" height="2"/><rect x="334" y="213" width="11" height="2"/><rect x="329" y="214" width="5" height="2"/><rect x="324" y="215" width="5" height="2"/><rect x="320" y="216" width="4" height="2"/><rect x="316" y="217" width="4" height="2"/><rect x="312" y="218" width="4" height="2"/><rect x="307" y="219" width="5" height="2"/><rect x="302" y="220" width="5" height="2"/><rect x="297" y="221" width="5" height="2"/><rect x="292" y="222" width="5" height="2"/><rect x="289" y="223" width="3" height="2"/><rect x="285" y="224" width="4" height="2"/><rect x="282" y="225" width="3" height="2"/><rect x="279" y="226" width="3" height="2"/><rect x="276" y="227" width="3" height="2"/><rect x="273" y="228" width="3" height="2"/><rect x="270" y="229" width="3" height="2"/><rect x="266" y="230" width="4" height="2"/><rect x="263" y="231" width="3" height="2"/><rect x="260" y="232" width="3" height="2"/><rect x="257" y="233" width="3" height="2"/><rect x="254" y="234" width="3" height="2"/><rect x="251" y="235" width="3" height="2"/><rect x="248" y="236" width="3" height="2"/><rect x="245" y="237" width="3" height="2"/><rect x="242" y="238" width="3" height="2"/><rect x="239" y="239" width="3" height="2"/><rect x="236" y="240" width="3" height="2"/><rect x="233" y="241" width="3" height="2"/><rect x="230" y="242" width="3" height="2"/><rect x="226" y="243" width="4" height="2"/><rect x="223" y="244" width="3" height="2"/><rect x="220" y="245" width="3" height="2"/><rect x="217" y="246" width="3" height="2"/><rect x="213" y="247" width="4" height="2"/><rect x="210" y="248" width="3" height="2"/><rect x="206" y="249" width="4" height="2"/><rect x="202" y="250" width="4" height="2"/><rect x="198" y="251" width="4" height="2"/><rect x="196" y="252" width="2" height="2"/><rect x="193" y="253" width="3" height="2"/><rect x="189" y="254" width="4" height="2"/><rect x="186" y="255" width="3" height="2"/><rect x="182" y="256" width="4" height="2"/><rect x="179" y="257" width="3" height="2"/><rect x="175" y="258" width="4" height="2"/><rect x="173" y="259" width="2" height="2"/><rect x="170" y="260" width="3" height="2"/><rect x="168" y="261" width="2" height="2"/><rect x="165" y="262" width="3" height="2"/><rect x="163" y="263" width="2" height="2"/><rect x="160" y="264" width="3" height="2"/><rect x="157" y="265" width="3" height="2"/><rect x="154" y="266" width="3" height="2"/><rect x="150" y="267" width="4" height="2"/><rect x="145" y="268" width="5" height="2"/><rect x="140" y="269" width="5" height="2"/><rect x="136" y="270" width="4" height="2"/><rect x="133" y="271" width="3" height="2"/><rect x="130" y="272" width="3" height="2"/><rect x="126" y="273" width="4" height="2"/><rect x="123" y="274" width="3" height="2"/><rect x="119" y="275" width="4" height="2"/><rect x="115" y="276" width="4" height="2"/><rect x="111" y="277" width="4" height="2"/><rect x="107" y="278" width="4" height="2"/><rect x="103" y="279" width="4" height="2"/><rect x="98" y="280" width="5" height="2"/><rect x="94" y="281" width="4" height="2"/><rect x="89" y="282" width="5" height="2"/><rect x="85" y="283" width="4" height="2"/><rect x="80" y="284" width="5" height="2"/><rect x="76" y="285" width="4" height="2"/><rect x="71" y="286" width="5" height="2"/><rect x="66" y="287" width="5" height="2"/><rect x="62" y="288" width="4" height="2"/><rect x="57" y="289" width="5" height="2"/><rect x="53" y="290" width="4" height="2"/><rect x="48" y="291" width="5" height="2"/><rect x="44" y="292" width="4" height="2"/><rect x="39" y="293" width="5" height="2"/><rect x="35" y="294" width="4" height="2"/><rect x="30" y="295" width="5" height="2"/><rect x="26" y="296" width="4" height="2"/><rect x="21" y="297" width="5" height="2"/><rect x="17" y="298" width="4" height="2"/><rect x="12" y="299" width="5" height="2"/><rect x="8" y="300" width="4" height="2"/><rect x="4" y="301" width="4" height="2"/><rect x="3" y="302" width="1" height="2"/></g>
<g fill="#FF0000" shape-rendering="crispEdges"><rect x="542" y="24" width="1" height="1"/><rect x="543" y="25" width="2" height="1"/><rect x="545" y="26" width="1" height="1"/><rect x="546" y="27" width="1" height="1"/><rect x="547" y="28" width="2" height="1"/><rect x="549" y="29" width="1" height="1"/><rect x="550" y="30" width="2" height="1"/><rect x="552" y="31" width="1" height="1"/><rect x="553" y="32" width="1" height="1"/><rect x="554" y="33" width="2" height="1"/><rect x="556" y="34" width="1" height="1"/><rect x="557" y="35" width="1" height="1"/><rect x="558" y="36" width="2" height="1"/><rect x="560" y="37" width="1" height="1"/><rect x="561" y="38" width="2" height="1"/><rect x="563" y="39" width="1" height="1"/><rect x="564" y="40" width="1" height="1"/><rect x="565" y="41" width="2" height="1"/><rect x="567" y="42" width="1" height="1"/><rect x="568" y="43" width="2" height="1"/><rect x="570" y="44" width="1" height="1"/><rect x="571" y="45" width="1" height="1"/><rect x="572" y="46" width="2" height="1"/><rect x="574" y="47" width="1" height="1"/><rect x="575" y="48" width="2" height="1"/><rect x="577" y="49" width="1" height="1"/><rect x="578" y="50" width="1" height="1"/><rect x="579" y="51" width="2" height="1"/><rect x="581" y="52" width="1" height="1"/><rect x="582" y="53" width="1" height="1"/><rect x="583" y="54" width="2" height="1"/><rect x="585" y="55" width="1" height="1"/><rect x="586" y="56" width="2" height="1"/><rect x="588" y="57" width="1" height="1"/><rect x="589" y="58" width="1" height="1"/><rect x="590" y="59" width="2" height="1"/><rect x="592" y="60" width="1" height="1"/><rect x="593" y="61" width="2" height="1"/><rect x="595" y="62" width="1" height="1"/><rect x="596" y="63" width="1" height="1"/><rect x="597" y="64" width="2" height="1"/><rect x="599" y="65" width="1" height="1"/><rect x="600" y="66" width="1" height="1"/><rect x="601" y="67" width="2" height="1"/><rect x="603" y="68" width="1" height="1"/><rect x="604" y="69" width="2" height="1"/><rect x="606" y="70" width="1" height="1"/><rect x="607" y="71" width="1" height="1"/><rect x="608" y="72" width="2" height="1"/><rect x="610" y="73" width="1" height="1"/><rect x="611" y="74" width="2" height="1"/><rect x="613" y="75" width="1" height="1"/><rect x="614" y="76" width="1" height="1"/><rect x="615" y="77" width="2" height="1"/><rect x="617" y="78" width="1" height="1"/><rect x="618" y="79" width="2" height="1"/><rect x="620" y="80" width="1" height="1"/><rect x="621" y="81" width="1" height="1"/><rect x="622" y="82" width="2" height="1"/><rect x="514" y="83" width="1" height="1"/><rect x="624" y="83" width="1" height="1"/><rect x="515" y="84" width="1" height="1"/><rect x="625" y="84" width="1" height="1"/><rect x="516" y="85" width="2" height="1"/><rect x="626" y="85" width="2" height="1"/><rect x="518" y="86" width="1" height="1"/><rect x="628" y="86" width="1" height="1"/><rect x="519" y="87" width="2" height="1"/><rect x="629" y="87" width="2" height="1"/><rect x="521" y="88" width="1" height="1"/><rect x="631" y="88" width="1" height="1"/><rect x="522" y="89" width="1" height="1"/><rect x="632" y="89" width="1" height="1"/><rect x="523" y="90" width="2" height="1"/><rect x="633" y="90" width="2" height="1"/><rect x="525" y="91" width="1" height="1"/><rect x="635" y="91" width="1" height="1"/><rect x="526" y="92" width="2" height="1"/><rect x="636" y="92" width="2" height="1"/><rect x="528" y="93" width="1" height="1"/><rect x="638" y="93" width="1" height="1"/><rect x="529" y="94" width="1" height="1"/><rect x="639" y="94" width="1" height="1"/><rect x="530" y="95" width="2" height="1"/><rect x="640" y="95" width="2" height="1"/><rect x="532" y="96" width="1" height="1"/><rect x="642" y="96" width="1" height="1"/><rect x="533" y="97" width="2" height="1"/><rect x="643" y="97" width="2" height="1"/><rect x="535" y="98" width="1" height="1"/><rect x="645" y="98" width="1" height="1"/><rect x="536" y="99" width="1" height="1"/><rect x="646" y="99" width="1" height="1"/><rect x="537" y="100" width="2" height="1"/><rect x="647" y="100" width="2" height="1"/><rect x="539" y="101" width="1" height="1"/><rect x="649" y="101" width="1" height="1"/><rect x="540" y="102" width="1" height="1"/><rect x="650" y="102" width="1" height="1"/><rect x="541" y="103" width="2" height="1"/><rect x="651" y="103" width="2" height="1"/><rect x="543" y="104" width="1" height="1"/><rect x="653" y="104" width="1" height="1"/><rect x="544" y="105" width="2" height="1"/><rect x="654" y="105" width="2" height="1"/><rect x="546" y="106" width="1" height="1"/><rect x="656" y="106" width="1" height="1"/><rect x="547" y="107" width="1" height="1"/><rect x="657" y="107" width="1" height="1"/><rect x="548" y="108" width="2" height="1"/><rect x="658" y="108" width="2" height="1"/><rect x="550" y="109" width="1" height="1"/><rect x="660" y="109" width="1" height="1"/><rect x="551" y="110" width="2" height="1"/><rect x="661" y="110" width="2" height="1"/><rect x="553" y="111" width="1" height="1"/><rect x="663" y="111" width="1" height="1"/><rect x="554" y="112" width="1" height="1"/><rect x="664" y="112" width="1" height="1"/><rect x="555" y="113" width="2" height="1"/><rect x="665" y="113" width="2" height="1"/><rect x="557" y="114" width="1" height="1"/><rect x="667" y="114" width="1" height="1"/><rect x="558" y="115" width="2" height="1"/><rect x="668" y="115" width="2" height="1"/><rect x="560" y="116" width="1" height="1"/><rect x="670" y="116" width="1" height="1"/><rect x="561" y="117" width="1" height="1"/><rect x="671" y="117" width="1" height="1"/><rect x="562" y="118" width="2" height="1"/><rect x="672" y="118" width="2" height="1"/><rect x="564" y="119" width="1" height="1"/><rect x="674" y="119" width="1" height="1"/><rect x="565" y="120" width="2" height="1"/><rect x="675" y="120" width="1" height="1"/><rect x="567" y="121" width="1" height="1"/><rect x="676" y="121" width="2" height="1"/><rect x="568" y="122" width="1" height="1"/><rect x="678" y="122" width="1" height="1"/><rect x="569" y="123" width="2" height="1"/><rect x="679" y="123" width="2" height="1"/><rect x="571" y="124" width="1" height="1"/><rect x="681" y="124" width="1" height="1"/><rect x="572" y="125" width="1" height="1"/><rect x="682" y="125" width="1" height="1"/><rect x="573" y="126" width="2" height="1"/><rect x="683" y="126" width="2" height="1"/><rect x="575" y="127" width="1" height="1"/><rect x="685" y="127" width="1" height="1"/><rect x="576" y="128" width="2" height="1"/><rect x="686" y="128" width="2" height="1"/><rect x="578" y="129" width="1" height="1"/><rect x="688" y="129" width="1" height="1"/><rect x="579" y="130" width="1" height="1"/><rect x="689" y="130" width="1" height="1"/><rect x="580" y="131" width="2" height="1"/><rect x="690" y="131" width="2" height="1"/><rect x="582" y="132" width="1" height="1"/><rect x="692" y="132" width="1" height="1"/><rect x="583" y="133" width="2" height="1"/><rect x="693" y="133" width="1" height="1"/><rect x="585" y="134" width="1" height="1"/><rect x="694" y="134" width="2" height="1"/><rect x="586" y="135" width="1" height="1"/><rect x="696" y="135" width="1" height="1"/><rect x="587" y="136" width="2" height="1"/><rect x="697" y="136" width="2" height="1"/><rect x="589" y="137" width="1" height="1"/><rect x="699" y="137" width="1" height="1"/><rect x="590" y="138" width="2" height="1"/><rect x="700" y="138" width="1" height="1"/><rect x="592" y="139" width="1" height="1"/><rect x="701" y="139" width="2" height="1"/><rect x="593" y="140" width="1" height="1"/><rect x="703" y="140" width="1" height="1"/><rect x="594" y="141" width="2" height="1"/><rect x="704" y="141" width="2" height="1"/><rect x="596" y="142" width="1" height="1"/><rect x="706" y="142" width="1" height="1"/><rect x="597" y="143" width="2" height="1"/><rect x="707" y="143" width="1" height="1"/><rect x="599" y="144" width="1" height="1"/><rect x="708" y="144" width="2" height="1"/><rect x="600" y="145" width="1" height="1"/><rect x="710" y="145" width="1" height="1"/><rect x="601" y="146" width="2" height="1"/><rect x="711" y="146" width="2" height="1"/><rect x="603" y="147" width="1" height="1"/><rect x="713" y="147" width="1" height="1"/><rect x="604" y="148" width="1" height="1"/><rect x="714" y="148" width="1" height="1"/><rect x="605" y="149" width="2" height="1"/><rect x="715" y="149" width="2" height="1"/><rect x="607" y="150" width="1" height="1"/><rect x="717" y="150" width="1" height="1"/><rect x="608" y="151" width="2" height="1"/><rect x="718" y="151" width="1" height="1"/><rect x="610" y="152" width="1" height="1"/><rect x="719" y="152" width="2" height="1"/><rect x="611" y="153" width="1" height="1"/><rect x="721" y="153" width="1" height="1"/><rect x="612" y="154" width="2" height="1"/><rect x="722" y="154" width="2" height="1"/><rect x="614" y="155" width="1" height="1"/><rect x="724" y="155" width="1" height="1"/><rect x="615" y="156" width="2" height="1"/><rect x="725" y="156" width="1" height="1"/><rect x="617" y="157" width="1" height="1"/><rect x="726" y="157" width="2" height="1"/><rect x="618" y="158" width="1" height="1"/><rect x="728" y="158" width="1" height="1"/><rect x="619" y="159" width="2" height="1"/><rect x="729" y="159" width="2" height="1"/><rect x="621" y="160" width="1" height="1"/><rect x="731" y="160" width="1" height="1"/><rect x="622" y="161" width="2" height="1"/><rect x="732" y="161" width="1" height="1"/><rect x="624" y="162" width="1" height="1"/><rect x="733" y="162" width="2" height="1"/><rect x="625" y="163" width="1" height="1"/><rect x="735" y="163" width="1" height="1"/><rect x="626" y="164" width="2" height="1"/><rect x="736" y="164" width="2" height="1"/><rect x="628" y="165" width="1" height="1"/><rect x="738" y="165" width="1" height="1"/><rect x="629" y="166" width="1" height="1"/><rect x="739" y="166" width="1" height="1"/><rect x="630" y="167" width="2" height="1"/><rect x="740" y="167" width="2" height="1"/><rect x="632" y="168" width="1" height="1"/><rect x="742" y="168" width="1" height="1"/><rect x="633" y="169" width="2" height="1"/><rect x="743" y="169" width="1" height="1"/><rect x="635" y="170" width="1" height="1"/><rect x="744" y="170" width="2" height="1"/><rect x="636" y="171" width="1" height="1"/><rect x="746" y="171" width="1" height="1"/><rect x="637" y="172" width="2" height="1"/><rect x="747" y="172" width="2" height="1"/><rect x="639" y="173" width="1" height="1"/><rect x="749" y="173" width="1" height="1"/><rect x="640" y="174" width="2" height="1"/><rect x="750" y="174" width="1" height="1"/><rect x="642" y="175" width="1" height="1"/><rect x="751" y="175" width="2" height="1"/><rect x="643" y="176" width="1" height="1"/><rect x="753" y="176" width="1" height="1"/><rect x="644" y="177" width="2" height="1"/><rect x="754" y="177" width="2" height="1"/><rect x="646" y="178" width="1" height="1"/><rect x="756" y="178" width="1" height="1"/><rect x="647" y="179" width="2" height="1"/><rect x="757" y="179" width="1" height="1"/><rect x="649" y="180" width="1" height="1"/><rect x="758" y="180" width="2" height="1"/><rect x="650" y="181" width="1" height="1"/><rect x="760" y="181" width="1" height="1"/><rect x="651" y="182" width="2" height="1"/><rect x="761" y="182" width="2" height="1"/><rect x="653" y="183" width="1" height="1"/><rect x="763" y="183" width="1" height="1"/><rect x="654" y="184" width="2" height="1"/><rect x="764" y="184" width="1" height="1"/><rect x="656" y="185" width="1" height="1"/><rect x="765" y="185" width="2" height="1"/><rect x="657" y="186" width="1" height="1"/><rect x="767" y="186" width="1" height="1"/><rect x="658" y="187" width="2" height="1"/><rect x="768" y="187" width="1" height="1"/><rect x="660" y="188" width="1" height="1"/><rect x="769" y="188" width="2" height="1"/><rect x="661" y="189" width="1" height="1"/><rect x="771" y="189" width="1" height="1"/><rect x="662" y="190" width="2" height="1"/><rect x="772" y="190" width="2" height="1"/><rect x="664" y="191" width="1" height="1"/><rect x="774" y="191" width="1" height="1"/><rect x="665" y="192" width="2" height="1"/><rect x="775" y="192" width="1" height="1"/><rect x="667" y="193" width="1" height="1"/><rect x="776" y="193" width="2" height="1"/><rect x="668" y="194" width="1" height="1"/><rect x="778" y="194" width="1" height="1"/><rect x="669" y="195" width="2" height="1"/><rect x="779" y="195" width="2" height="1"/><rect x="671" y="196" width="1" height="1"/><rect x="781" y="196" width="1" height="1"/><rect x="672" y="197" width="2" height="1"/><rect x="782" y="197" width="1" height="1"/><rect x="674" y="198" width="1" height="1"/><rect x="783" y="198" width="2" height="1"/><rect x="675" y="199" width="1" height="1"/><rect x="785" y="199" width="1" height="1"/><rect x="676" y="200" width="2" height="1"/><rect x="786" y="200" width="1" height="1"/><rect x="678" y="201" width="1" height="1"/><rect x="787" y="201" width="2" height="1"/><rect x="679" y="202" width="2" height="1"/><rect x="789" y="202" width="1" height="1"/><rect x="681" y="203" width="1" height="1"/><rect x="790" y="203" width="2" height="1"/><rect x="682" y="204" width="1" height="1"/><rect x="792" y="204" width="1" height="1"/><rect x="683" y="205" width="2" height="1"/><rect x="793" y="205" width="1" height="1"/><rect x="685" y="206" width="1" height="1"/><rect x="794" y="206" width="2" height="1"/><rect x="686" y="207" width="2" height="1"/><rect x="796" y="207" width="1" height="1"/><rect x="688" y="208" width="1" height="1"/><rect x="797" y="208" width="2" height="1"/><rect x="689" y="209" width="1" height="1"/><rect x="799" y="209" width="1" height="1"/><rect x="690" y="210" width="2" height="1"/><rect x="800" y="210" width="1" height="1"/><rect x="692" y="211" width="1" height="1"/><rect x="801" y="211" width="2" height="1"/><rect x="693" y="212" width="1" height="1"/><rect x="803" y="212" width="1" height="1"/><rect x="694" y="213" width="2" height="1"/><rect x="804" y="213" width="2" height="1"/><rect x="696" y="214" width="1" height="1"/><rect x="806" y="214" width="1" height="1"/><rect x="697" y="215" width="2" height="1"/><rect x="807" y="215" width="1" height="1"/><rect x="699" y="216" width="1" height="1"/><rect x="808" y="216" width="2" height="1"/><rect x="700" y="217" width="1" height="1"/><rect x="810" y="217" width="1" height="1"/><rect x="701" y="218" width="2" height="1"/><rect x="811" y="218" width="1" height="1"/><rect x="703" y="219" width="1" height="1"/><rect x="812" y="219" width="2" height="1"/><rect x="704" y="220" width="2" height="1"/><rect x="814" y="220" width="1" height="1"/><rect x="706" y="221" width="1" height="1"/><rect x="815" y="221" width="2" height="1"/><rect x="707" y="222" width="1" height="1"/><rect x="817" y="222" width="1" height="1"/><rect x="708" y="223" width="2" height="1"/><rect x="818" y="223" width="1" height="1"/><rect x="710" y="224" width="1" height="1"/><rect x="819" y="224" width="2" height="1"/><rect x="711" y="225" width="2" height="1"/><rect x="821" y="225" width="1" height="1"/><rect x="713" y="226" width="1" height="1"/><rect x="822" y="226" width="2" height="1"/><rect x="714" y="227" width="1" height="1"/><rect x="824" y="227" width="1" height="1"/><rect x="715" y="228" width="2" height="1"/><rect x="825" y="228" width="1" height="1"/><rect x="717" y="229" width="1" height="1"/><rect x="826" y="229" width="2" height="1"/><rect x="718" y="230" width="2" height="1"/><rect x="828" y="230" width="1" height="1"/><rect x="720" y="231" width="1" height="1"/><rect x="829" y="231" width="2" height="1"/><rect x="721" y="232" width="1" height="1"/><rect x="831" y="232" width="1" height="1"/><rect x="722" y="233" width="2" height="1"/><rect x="832" y="233" width="1" height="1"/><rect x="724" y="234" width="1" height="1"/><rect x="833" y="234" width="2" height="1"/><rect x="725" y="235" width="1" height="1"/><rect x="835" y="235" width="1" height="1"/><rect x="726" y="236" width="2" height="1"/><rect x="836" y="236" width="1" height="1"/><rect x="728" y="237" width="1" height="1"/><rect x="837" y="237" width="2" height="1"/><rect x="729" y="238" width="2" height="1"/><rect x="839" y="238" width="1" height="1"/><rect x="731" y="239" width="1" height="1"/><rect x="840" y="239" width="2" height="1"/><rect x="732" y="240" width="1" height="1"/><rect x="842" y="240" width="1" height="1"/><rect x="733" y="241" width="2" height="1"/><rect x="843" y="241" width="1" height="1"/><rect x="735" y="242" width="1" height="1"/><rect x="844" y="242" width="2" height="1"/><rect x="736" y="243" width="2" height="1"/><rect x="846" y="243" width="1" height="1"/><rect x="738" y="244" width="1" height="1"/><rect x="847" y="244" width="2" height="1"/><rect x="739" y="245" width="1" height="1"/><rect x="849" y="245" width="1" height="1"/><rect x="740" y="246" width="2" height="1"/><rect x="850" y="246" width="1" height="1"/><rect x="742" y="247" width="1" height="1"/><rect x="851" y="247" width="2" height="1"/><rect x="743" y="248" width="2" height="1"/><rect x="853" y="248" width="1" height="1"/><rect x="745" y="249" width="1" height="1"/><rect x="854" y="249" width="2" height="1"/><rect x="746" y="250" width="1" height="1"/><rect x="856" y="250" width="1" height="1"/><rect x="747" y="251" width="2" height="1"/><rect x="857" y="251" width="1" height="1"/><rect x="749" y="252" width="1" height="1"/><rect x="858" y="252" width="2" height="1"/><rect x="750" y="253" width="2" height="1"/><rect x="860" y="253" width="1" height="1"/><rect x="752" y="254" width="1" height="1"/><rect x="861" y="254" width="1" height="1"/><rect x="753" y="255" width="1" height="1"/><rect x="862" y="255" width="2" height="1"/><rect x="754" y="256" width="2" height="1"/><rect x="864" y="256" width="1" height="1"/><rect x="756" y="257" width="1" height="1"/><rect x="865" y="257" width="2" height="1"/><rect x="757" y="258" width="1" height="1"/><rect x="867" y="258" width="1" height="1"/><rect x="758" y="259" width="2" height="1"/><rect x="868" y="259" width="1" height="1"/><rect x="760" y="260" width="1" height="1"/><rect x="869" y="260" width="2" height="1"/><rect x="761" y="261" width="2" height="1"/><rect x="871" y="261" width="1" height="1"/><rect x="763" y="262" width="1" height="1"/><rect x="872" y="262" width="2" height="1"/><rect x="764" y="263" width="1" height="1"/><rect x="874" y="263" width="1" height="1"/><rect x="765" y="264" width="2" height="1"/><rect x="875" y="264" width="1" height="1"/><rect x="767" y="265" width="1" height="1"/><rect x="876" y="265" width="2" height="1"/><rect x="768" y="266" width="2" height="1"/><rect x="878" y="266" width="1" height="1"/><rect x="770" y="267" width="1" height="1"/><rect x="879" y="267" width="1" height="1"/><rect x="771" y="268" width="1" height="1"/><rect x="880" y="268" width="2" height="1"/><rect x="772" y="269" width="2" height="1"/><rect x="882" y="269" width="1" height="1"/><rect x="774" y="270" width="1" height="1"/><rect x="883" y="270" width="2" height="1"/><rect x="775" y="271" width="2" height="1"/><rect x="885" y="271" width="1" height="1"/><rect x="777" y="272" width="1" height="1"/><rect x="886" y="272" width="1" height="1"/><rect x="778" y="273" width="1" height="1"/><rect x="887" y="273" width="2" height="1"/><rect x="779" y="274" width="2" height="1"/><rect x="889" y="274" width="1" height="1"/><rect x="781" y="275" width="1" height="1"/><rect x="890" y="275" width="2" height="1"/><rect x="782" y="276" width="1" height="1"/><rect x="892" y="276" width="1" height="1"/><rect x="783" y="277" width="2" height="1"/><rect x="893" y="277" width="1" height="1"/><rect x="785" y="278" width="1" height="1"/><rect x="894" y="278" width="2" height="1"/><rect x="786" y="279" width="2" height="1"/><rect x="896" y="279" width="1" height="1"/><rect x="788" y="280" width="1" height="1"/><rect x="897" y="280" width="2" height="1"/><rect x="789" y="281" width="1" height="1"/><rect x="899" y="281" width="1" height="1"/><rect x="790" y="282" width="2" height="1"/><rect x="900" y="282" width="1" height="1"/><rect x="792" y="283" width="1" height="1"/><rect x="901" y="283" width="2" height="1"/><rect x="793" y="284" width="2" height="1"/><rect x="903" y="284" width="1" height="1"/><rect x="795" y="285" width="1" height="1"/><rect x="904" y="285" width="1" height="1"/><rect x="796" y="286" width="1" height="1"/><rect x="905" y="286" width="2" height="1"/><rect x="797" y="287" width="2" height="1"/><rect x="907" y="287" width="1" height="1"/><rect x="799" y="288" width="1" height="1"/><rect x="908" y="288" width="2" height="1"/><rect x="800" y="289" width="2" height="1"/><rect x="910" y="289" width="1" height="1"/><rect x="802" y="290" width="1" height="1"/><rect x="911" y="290" width="1" height="1"/><rect x="803" y="291" width="1" height="1"/><rect x="912" y="291" width="2" height="1"/><rect x="804" y="292" width="2" height="1"/><rect x="914" y="292" width="1" height="1"/><rect x="806" y="293" width="1" height="1"/><rect x="915" y="293" width="2" height="1"/><rect x="807" y="294" width="2" height="1"/><rect x="917" y="294" width="1" height="1"/><rect x="809" y="295" width="1" height="1"/><rect x="918" y="295" width="1" height="1"/><rect x="810" y="296" width="1" height="1"/><rect x="919" y="296" width="2" height="1"/><rect x="811" y="297" width="2" height="1"/><rect x="921" y="297" width="1" height="1"/><rect x="813" y="298" width="1" height="1"/><rect x="922" y="298" width="2" height="1"/><rect x="814" y="299" width="1" height="1"/><rect x="924" y="299" width="1" height="1"/><rect x="815" y="300" width="2" height="1"/><rect x="925" y="300" width="1" height="1"/><rect x="817" y="301" width="1" height="1"/><rect x="926" y="301" width="2" height="1"/><rect x="818" y="302" width="2" height="1"/><rect x="928" y="302" width="1" height="1"/><rect x="820" y="303" width="1" height="1"/><rect x="929" y="303" width="1" height="1"/><rect x="821" y="304" width="1" height="1"/><rect x="930" y="304" width="2" height="1"/><rect x="822" y="305" width="2" height="1"/><rect x="932" y="305" width="1" height="1"/><rect x="824" y="306" width="1" height="1"/><rect x="933" y="306" width="2" height="1"/><rect x="825" y="307" width="2" height="1"/><rect x="935" y="307" width="1" height="1"/><rect x="827" y="308" width="1" height="1"/><rect x="936" y="308" width="1" height="1"/><rect x="828" y="309" width="1" height="1"/><rect x="937" y="309" width="2" height="1"/><rect x="829" y="310" width="2" height="1"/><rect x="939" y="310" width="1" height="1"/><rect x="831" y="311" width="1" height="1"/><rect x="940" y="311" width="2" height="1"/><rect x="832" y="312" width="2" height="1"/><rect x="834" y="313" width="1" height="1"/><rect x="835" y="314" width="1" height="1"/><rect x="836" y="315" width="2" height="1"/><rect x="838" y="316" width="1" height="1"/><rect x="839" y="317" width="2" height="1"/><rect x="841" y="318" width="1" height="1"/><rect x="842" y="319" width="1" height="1"/><rect x="843" y="320" width="2" height="1"/><rect x="845" y="321" width="1" height="1"/><rect x="846" y="322" width="1" height="1"/><rect x="847" y="323" width="2" height="1"/><rect x="849" y="324" width="1" height="1"/><rect x="850" y="325" width="2" height="1"/><rect x="852" y="326" width="1" height="1"/><rect x="853" y="327" width="1" height="1"/><rect x="854" y="328" width="2" height="1"/><rect x="856" y="329" width="1" height="1"/><rect x="857" y="330" width="2" height="1"/><rect x="859" y="331" width="1" height="1"/><rect x="860" y="332" width="1" height="1"/><rect x="861" y="333" width="2" height="1"/><rect x="863" y="334" width="1" height="1"/><rect x="864" y="335" width="2" height="1"/><rect x="866" y="336" width="1" height="1"/><rect x="867" y="337" width="1" height="1"/><rect x="868" y="338" width="2" height="1"/><rect x="870" y="339" width="1" height="1"/><rect x="871" y="340" width="2" height="1"/><rect x="873" y="341" width="1" height="1"/><rect x="874" y="342" width="1" height="1"/><rect x="875" y="343" width="2" height="1"/><rect x="877" y="344" width="1" height="1"/><rect x="878" y="345" width="1" height="1"/><rect x="879" y="346" width="2" height="1"/><rect x="881" y="347" width="1" height="1"/><rect x="882" y="348" width="2" height="1"/><rect x="884" y="349" width="1" height="1"/><rect x="885" y="350" width="1" height="1"/><rect x="886" y="351" width="2" height="1"/><rect x="888" y="352" width="1" height="1"/><rect x="889" y="353" width="2" height="1"/><rect x="891" y="354" width="1" height="1"/><rect x="892" y="355" width="1" height="1"/><rect x="893" y="356" width="2" height="1"/><rect x="895" y="357" width="1" height="1"/><rect x="896" y="358" width="2" height="1"/><rect x="898" y="359" width="1" height="1"/><rect x="899" y="360" width="1" height="1"/><rect x="900" y="361" width="2" height="1"/><rect x="902" y="362" width="1" height="1"/><rect x="903" y="363" width="2" height="1"/><rect x="905" y="364" width="1" height="1"/><rect x="906" y="365" width="1" height="1"/><rect x="907" y="366" width="2" height="1"/><rect x="909" y="367" width="1" height="1"/><rect x="910" y="368" width="1" height="1"/><rect x="911" y="369" width="2" height="1"/><rect x="913" y="370" width="1" height="1"/><rect x="914" y="371" width="2" height="1"/><rect x="916" y="372" width="1" height="1"/><rect x="917" y="373" width="1" height="1"/><rect x="918" y="374" width="2" height="1"/><rect x="920" y="375" width="1" height="1"/><rect x="921" y="376" width="2" height="1"/><rect x="923" y="377" width="1" height="1"/><rect x="924" y="378" width="1" height="1"/><rect x="925" y="379" width="2" height="1"/><rect x="927" y="380" width="1" height="1"/><rect x="928" y="381" width="2" height="1"/><rect x="930" y="382" width="1" height="1"/><rect x="931" y="383" width="1" height="1"/><rect x="932" y="384" width="2" height="1"/><rect x="934" y="385" width="1" height="1"/><rect x="935" y="386" width="1" height="1"/><rect x="936" y="387" width="2" height="1"/><rect x="938" y="388" width="1" height="1"/><rect x="939" y="389" width="2" height="1"/><rect x="941" y="390" width="1" height="1"/></g>
<g fill="#1E90FF" shape-rendering="crispEdges"><rect x="438" y="414" width="1" height="1"/><rect x="437" y="415" width="1" height="1"/><rect x="439" y="415" width="1" height="1"/><rect x="457" y="415" width="2" height="1"/><rect x="178" y="416" width="1" height="1"/><rect x="422" y="416" width="1" height="1"/><rect x="436" y="416" width="1" height="1"/><rect x="440" y="416" width="1" height="1"/><rect x="455" y="416" width="2" height="1"/><rect x="459" y="416" width="1" height="1"/><rect x="172" y="417" width="7" height="1"/><rect x="421" y="417" width="2" height="1"/><rect x="436" y="417" width="1" height="1"/><rect x="441" y="417" width="1" height="1"/><rect x="453" y="417" width="2" height="1"/><rect x="459" y="417" width="1" height="1"/><rect x="169" y="418" width="3" height="1"/><rect x="179" y="418" width="1" height="1"/><rect x="186" y="418" width="1" height="1"/><rect x="402" y="418" width="1" height="1"/><rect x="419" y="418" width="2" height="1"/><rect x="423" y="418" width="1" height="1"/><rect x="435" y="418" width="1" height="1"/><rect x="442" y="418" width="1" height="1"/><rect x="452" y="418" width="1" height="1"/><rect x="460" y="418" width="1" height="1"/><rect x="168" y="419" width="1" height="1"/><rect x="179" y="419" width="1" height="1"/><rect x="185" y="419" width="1" height="1"/><rect x="187" y="419" width="1" height="1"/><rect x="401" y="419" width="1" height="1"/><rect x="403" y="419" width="2" height="1"/><rect x="416" y="419" width="3" height="1"/><rect x="424" y="419" width="1" height="1"/><rect x="434" y="419" width="1" height="1"/><rect x="443" y="419" width="1" height="1"/><rect x="451" y="419" width="1" height="1"/><rect x="460" y="419" width="1" height="1"/><rect x="134" y="420" width="1" height="1"/><rect x="161" y="420" width="7" height="1"/><rect x="180" y="420" width="1" height="1"/><rect x="185" y="420" width="1" height="1"/><rect x="188" y="420" width="1" height="1"/><rect x="217" y="420" width="2" height="1"/><rect x="226" y="420" width="1" height="1"/><rect x="400" y="420" width="1" height="1"/><rect x="405" y="420" width="1" height="1"/><rect x="412" y="420" width="4" height="1"/><rect x="424" y="420" width="1" height="1"/><rect x="430" y="420" width="5" height="1"/><rect x="444" y="420" width="1" height="1"/><rect x="449" y="420" width="2" height="1"/><rect x="461" y="420" width="1" height="1"/><rect x="538" y="420" width="1" height="1"/><rect x="131" y="421" width="3" height="1"/><rect x="135" y="421" width="3" height="1"/><rect x="159" y="421" width="2" height="1"/><rect x="181" y="421" width="1" height="1"/><rect x="184" y="421" width="1" height="1"/><rect x="189" y="421" width="1" height="1"/><rect x="193" y="421" width="2" height="1"/><rect x="214" y="421" width="3" height="1"/><rect x="219" y="421" width="1" height="1"/><rect x="225" y="421" width="1" height="1"/><rect x="227" y="421" width="1" height="1"/><rect x="280" y="421" width="3" height="1"/><rect x="400" y="421" width="1" height="1"/><rect x="406" y="421" width="6" height="1"/><rect x="425" y="421" width="1" height="1"/><rect x="428" y="421" width="2" height="1"/><rect x="445" y="421" width="1" height="1"/><rect x="448" y="421" width="1" height="1"/><rect x="461" y="421" width="1" height="1"/><rect x="536" y="421" width="3" height="1"/><rect x="129" y="422" width="2" height="1"/><rect x="138" y="422" width="1" height="1"/><rect x="157" y="422" width="2" height="1"/><rect x="181" y="422" width="1" height="1"/><rect x="183" y="422" width="1" height="1"/><rect x="190" y="422" width="3" height="1"/><rect x="195" y="422" width="1" height="1"/><rect x="213" y="422" width="1" height="1"/><rect x="220" y="422" width="2" height="1"/><rect x="223" y="422" width="2" height="1"/><rect x="227" y="422" width="1" height="1"/><rect x="278" y="422" width="2" height="1"/><rect x="282" y="422" width="1" height="1"/><rect x="399" y="422" width="1" height="1"/><rect x="426" y="422" width="2" height="1"/><rect x="446" y="422" width="2" height="1"/><rect x="462" y="422" width="1" height="1"/><rect x="534" y="422" width="2" height="1"/><rect x="539" y="422" width="1" height="1"/><rect x="121" y="423" width="5" height="1"/><rect x="127" y="423" width="2" height="1"/><rect x="139" y="423" width="1" height="1"/><rect x="156" y="423" width="1" height="1"/><rect x="182" y="423" width="1" height="1"/><rect x="196" y="423" width="2" height="1"/><rect x="212" y="423" width="1" height="1"/><rect x="222" y="423" width="1" height="1"/><rect x="228" y="423" width="1" height="1"/><rect x="276" y="423" width="2" height="1"/><rect x="282" y="423" width="1" height="1"/><rect x="398" y="423" width="1" height="1"/><rect x="426" y="423" width="1" height="1"/><rect x="462" y="423" width="1" height="1"/><rect x="534" y="423" width="1" height="1"/><rect x="539" y="423" width="1" height="1"/><rect x="120" y="424" width="1" height="1"/><rect x="126" y="424" width="1" height="1"/><rect x="139" y="424" width="1" height="1"/><rect x="155" y="424" width="1" height="1"/><rect x="182" y="424" width="1" height="1"/><rect x="198" y="424" width="1" height="1"/><rect x="211" y="424" width="1" height="1"/><rect x="229" y="424" width="1" height="1"/><rect x="232" y="424" width="3" height="1"/><rect x="275" y="424" width="1" height="1"/><rect x="283" y="424" width="1" height="1"/><rect x="397" y="424" width="1" height="1"/><rect x="463" y="424" width="1" height="1"/><rect x="478" y="424" width="1" height="1"/><rect x="533" y="424" width="1" height="1"/><rect x="540" y="424" width="1" height="1"/><rect x="119" y="425" width="1" height="1"/><rect x="140" y="425" width="1" height="1"/><rect x="154" y="425" width="1" height="1"/><rect x="199" y="425" width="1" height="1"/><rect x="210" y="425" width="1" height="1"/><rect x="230" y="425" width="2" height="1"/><rect x="235" y="425" width="1" height="1"/><rect x="269" y="425" width="6" height="1"/><rect x="283" y="425" width="1" height="1"/><rect x="396" y="425" width="1" height="1"/><rect x="464" y="425" width="1" height="1"/><rect x="476" y="425" width="2" height="1"/><rect x="479" y="425" width="3" height="1"/><rect x="532" y="425" width="1" height="1"/><rect x="540" y="425" width="1" height="1"/><rect x="115" y="426" width="4" height="1"/><rect x="140" y="426" width="1" height="1"/><rect x="152" y="426" width="2" height="1"/><rect x="200" y="426" width="1" height="1"/><rect x="209" y="426" width="1" height="1"/><rect x="235" y="426" width="1" height="1"/><rect x="242" y="426" width="4" height="1"/><rect x="247" y="426" width="5" height="1"/><rect x="266" y="426" width="3" height="1"/><rect x="283" y="426" width="1" height="1"/><rect x="395" y="426" width="1" height="1"/><rect x="465" y="426" width="1" height="1"/><rect x="475" y="426" width="1" height="1"/><rect x="482" y="426" width="1" height="1"/><rect x="532" y="426" width="1" height="1"/><rect x="541" y="426" width="1" height="1"/><rect x="114" y="427" width="1" height="1"/><rect x="141" y="427" width="1" height="1"/><rect x="150" y="427" width="2" height="1"/><rect x="201" y="427" width="1" height="1"/><rect x="208" y="427" width="1" height="1"/><rect x="236" y="427" width="1" height="1"/><rect x="241" y="427" width="1" height="1"/><rect x="246" y="427" width="1" height="1"/><rect x="252" y="427" width="3" height="1"/><rect x="265" y="427" width="1" height="1"/><rect x="283" y="427" width="1" height="1"/><rect x="393" y="427" width="2" height="1"/><rect x="466" y="427" width="9" height="1"/><rect x="483" y="427" width="1" height="1"/><rect x="494" y="427" width="1" height="1"/><rect x="510" y="427" width="5" height="1"/><rect x="531" y="427" width="1" height="1"/><rect x="541" y="427" width="1" height="1"/><rect x="114" y="428" width="1" height="1"/><rect x="141" y="428" width="1" height="1"/><rect x="149" y="428" width="1" height="1"/><rect x="202" y="428" width="3" height="1"/><rect x="207" y="428" width="1" height="1"/><rect x="237" y="428" width="1" height="1"/><rect x="240" y="428" width="1" height="1"/><rect x="255" y="428" width="1" height="1"/><rect x="264" y="428" width="1" height="1"/><rect x="284" y="428" width="1" height="1"/><rect x="389" y="428" width="4" height="1"/><rect x="483" y="428" width="1" height="1"/><rect x="491" y="428" width="3" height="1"/><rect x="495" y="428" width="2" height="1"/><rect x="509" y="428" width="1" height="1"/><rect x="515" y="428" width="1" height="1"/><rect x="530" y="428" width="1" height="1"/><rect x="541" y="428" width="1" height="1"/><rect x="545" y="428" width="3" height="1"/><rect x="113" y="429" width="1" height="1"/><rect x="142" y="429" width="1" height="1"/><rect x="148" y="429" width="1" height="1"/><rect x="205" y="429" width="2" height="1"/><rect x="237" y="429" width="1" height="1"/><rect x="239" y="429" width="1" height="1"/><rect x="255" y="429" width="1" height="1"/><rect x="262" y="429" width="2" height="1"/><rect x="284" y="429" width="1" height="1"/><rect x="382" y="429" width="7" height="1"/><rect x="484" y="429" width="1" height="1"/><rect x="490" y="429" width="1" height="1"/><rect x="497" y="429" width="6" height="1"/><rect x="508" y="429" width="1" height="1"/><rect x="516" y="429" width="1" height="1"/><rect x="529" y="429" width="1" height="1"/><rect x="542" y="429" width="3" height="1"/><rect x="548" y="429" width="1" height="1"/><rect x="113" y="430" width="1" height="1"/><rect x="142" y="430" width="4" height="1"/><rect x="147" y="430" width="1" height="1"/><rect x="238" y="430" width="1" height="1"/><rect x="256" y="430" width="1" height="1"/><rect x="261" y="430" width="1" height="1"/><rect x="284" y="430" width="1" height="1"/><rect x="381" y="430" width="1" height="1"/><rect x="484" y="430" width="1" height="1"/><rect x="489" y="430" width="1" height="1"/><rect x="503" y="430" width="2" height="1"/><rect x="507" y="430" width="1" height="1"/><rect x="517" y="430" width="1" height="1"/><rect x="528" y="430" width="1" height="1"/><rect x="549" y="430" width="10" height="1"/><rect x="113" y="431" width="1" height="1"/><rect x="146" y="431" width="1" height="1"/><rect x="257" y="431" width="1" height="1"/><rect x="260" y="431" width="1" height="1"/><rect x="284" y="431" width="1" height="1"/><rect x="381" y="431" width="1" height="1"/><rect x="485" y="431" width="1" height="1"/><rect x="488" y="431" width="1" height="1"/><rect x="505" y="431" width="2" height="1"/><rect x="518" y="431" width="1" height="1"/><rect x="526" y="431" width="2" height="1"/><rect x="559" y="431" width="4" height="1"/><rect x="112" y="432" width="1" height="1"/><rect x="258" y="432" width="2" height="1"/><rect x="285" y="432" width="1" height="1"/><rect x="318" y="432" width="1" height="1"/><rect x="330" y="432" width="1" height="1"/><rect x="381" y="432" width="1" height="1"/><rect x="486" y="432" width="2" height="1"/><rect x="519" y="432" width="7" height="1"/><rect x="562" y="432" width="1" height="1"/><rect x="112" y="433" width="1" height="1"/><rect x="258" y="433" width="1" height="1"/><rect x="285" y="433" width="1" height="1"/><rect x="317" y="433" width="1" height="1"/><rect x="319" y="433" width="1" height="1"/><rect x="329" y="433" width="1" height="1"/><rect x="331" y="433" width="3" height="1"/><rect x="380" y="433" width="1" height="1"/><rect x="486" y="433" width="1" height="1"/><rect x="563" y="433" width="1" height="1"/><rect x="112" y="434" width="1" height="1"/><rect x="285" y="434" width="1" height="1"/><rect x="316" y="434" width="1" height="1"/><rect x="320" y="434" width="2" height="1"/><rect x="328" y="434" width="1" height="1"/><rect x="334" y="434" width="1" height="1"/><rect x="380" y="434" width="1" height="1"/><rect x="563" y="434" width="1" height="1"/><rect x="111" y="435" width="1" height="1"/><rect x="285" y="435" width="1" height="1"/><rect x="314" y="435" width="2" height="1"/><rect x="322" y="435" width="3" height="1"/><rect x="327" y="435" width="1" height="1"/><rect x="334" y="435" width="1" height="1"/><rect x="379" y="435" width="1" height="1"/><rect x="564" y="435" width="1" height="1"/><rect x="720" y="435" width="5" height="1"/><rect x="728" y="435" width="3" height="1"/><rect x="111" y="436" width="1" height="1"/><rect x="286" y="436" width="1" height="1"/><rect x="314" y="436" width="1" height="1"/><rect x="325" y="436" width="2" height="1"/><rect x="335" y="436" width="1" height="1"/><rect x="379" y="436" width="1" height="1"/><rect x="564" y="436" width="1" height="1"/><rect x="714" y="436" width="6" height="1"/><rect x="725" y="436" width="3" height="1"/><rect x="730" y="436" width="1" height="1"/><rect x="111" y="437" width="1" height="1"/><rect x="286" y="437" width="1" height="1"/><rect x="313" y="437" width="1" height="1"/><rect x="335" y="437" width="1" height="1"/><rect x="379" y="437" width="1" height="1"/><rect x="565" y="437" width="1" height="1"/><rect x="618" y="437" width="1" height="1"/><rect x="713" y="437" width="1" height="1"/><rect x="731" y="437" width="1" height="1"/><rect x="110" y="438" width="1" height="1"/><rect x="286" y="438" width="3" height="1"/><rect x="294" y="438" width="1" height="1"/><rect x="312" y="438" width="1" height="1"/><rect x="336" y="438" width="1" height="1"/><rect x="350" y="438" width="1" height="1"/><rect x="378" y="438" width="1" height="1"/><rect x="565" y="438" width="1" height="1"/><rect x="617" y="438" width="1" height="1"/><rect x="619" y="438" width="2" height="1"/><rect x="712" y="438" width="1" height="1"/><rect x="731" y="438" width="1" height="1"/><rect x="38" y="439" width="2" height="1"/><rect x="110" y="439" width="1" height="1"/><rect x="289" y="439" width="5" height="1"/><rect x="295" y="439" width="1" height="1"/><rect x="311" y="439" width="1" height="1"/><rect x="336" y="439" width="1" height="1"/><rect x="349" y="439" width="1" height="1"/><rect x="351" y="439" width="1" height="1"/><rect x="378" y="439" width="1" height="1"/><rect x="566" y="439" width="2" height="1"/><rect x="582" y="439" width="5" height="1"/><rect x="602" y="439" width="1" height="1"/><rect x="616" y="439" width="1" height="1"/><rect x="621" y="439" width="6" height="1"/><rect x="712" y="439" width="1" height="1"/><rect x="732" y="439" width="1" height="1"/><rect x="36" y="440" width="2" height="1"/><rect x="40" y="440" width="1" height="1"/><rect x="62" y="440" width="1" height="1"/><rect x="107" y="440" width="3" height="1"/><rect x="296" y="440" width="1" height="1"/><rect x="302" y="440" width="1" height="1"/><rect x="310" y="440" width="1" height="1"/><rect x="336" y="440" width="1" height="1"/><rect x="348" y="440" width="1" height="1"/><rect x="352" y="440" width="1" height="1"/><rect x="362" y="440" width="2" height="1"/><rect x="377" y="440" width="1" height="1"/><rect x="568" y="440" width="3" height="1"/><rect x="581" y="440" width="1" height="1"/><rect x="586" y="440" width="1" height="1"/><rect x="601" y="440" width="1" height="1"/><rect x="603" y="440" width="1" height="1"/><rect x="615" y="440" width="1" height="1"/><rect x="627" y="440" width="4" height="1"/><rect x="711" y="440" width="1" height="1"/><rect x="732" y="440" width="1" height="1"/><rect x="3" y="441" width="1" height="1"/><rect x="35" y="441" width="1" height="1"/><rect x="41" y="441" width="2" height="1"/><rect x="59" y="441" width="3" height="1"/><rect x="63" y="441" width="1" height="1"/><rect x="104" y="441" width="3" height="1"/><rect x="297" y="441" width="5" height="1"/><rect x="303" y="441" width="7" height="1"/><rect x="337" y="441" width="1" height="1"/><rect x="347" y="441" width="1" height="1"/><rect x="353" y="441" width="1" height="1"/><rect x="360" y="441" width="2" height="1"/><rect x="364" y="441" width="1" height="1"/><rect x="376" y="441" width="1" height="1"/><rect x="571" y="441" width="1" height="1"/><rect x="580" y="441" width="1" height="1"/><rect x="587" y="441" width="1" height="1"/><rect x="600" y="441" width="1" height="1"/><rect x="603" y="441" width="1" height="1"/><rect x="614" y="441" width="1" height="1"/><rect x="631" y="441" width="1" height="1"/><rect x="706" y="441" width="5" height="1"/><rect x="732" y="441" width="1" height="1"/><rect x="4" y="442" width="3" height="1"/><rect x="34" y="442" width="1" height="1"/><rect x="43" y="442" width="2" height="1"/><rect x="53" y="442" width="6" height="1"/><rect x="64" y="442" width="1" height="1"/><rect x="69" y="442" width="4" height="1"/><rect x="102" y="442" width="2" height="1"/><rect x="337" y="442" width="1" height="1"/><rect x="346" y="442" width="1" height="1"/><rect x="354" y="442" width="3" height="1"/><rect x="359" y="442" width="1" height="1"/><rect x="365" y="442" width="2" height="1"/><rect x="376" y="442" width="1" height="1"/><rect x="572" y="442" width="1" height="1"/><rect x="579" y="442" width="1" height="1"/><rect x="588" y="442" width="1" height="1"/><rect x="594" y="442" width="4" height="1"/><rect x="599" y="442" width="1" height="1"/><rect x="604" y="442" width="1" height="1"/><rect x="613" y="442" width="1" height="1"/><rect x="632" y="442" width="1" height="1"/><rect x="705" y="442" width="1" height="1"/><rect x="733" y="442" width="1" height="1"/><rect x="7" y="443" width="1" height="1"/><rect x="33" y="443" width="1" height="1"/><rect x="45" y="443" width="3" height="1"/><rect x="51" y="443" width="2" height="1"/><rect x="65" y="443" width="1" height="1"/><rect x="67" y="443" width="2" height="1"/><rect x="73" y="443" width="3" height="1"/><rect x="79" y="443" width="5" height="1"/><rect x="101" y="443" width="1" height="1"/><rect x="337" y="443" width="1" height="1"/><rect x="345" y="443" width="1" height="1"/><rect x="357" y="443" width="2" height="1"/><rect x="367" y="443" width="2" height="1"/><rect x="375" y="443" width="1" height="1"/><rect x="573" y="443" width="1" height="1"/><rect x="578" y="443" width="1" height="1"/><rect x="588" y="443" width="1" height="1"/><rect x="593" y="443" width="1" height="1"/><rect x="598" y="443" width="1" height="1"/><rect x="604" y="443" width="1" height="1"/><rect x="612" y="443" width="1" height="1"/><rect x="632" y="443" width="1" height="1"/><rect x="682" y="443" width="1" height="1"/><rect x="705" y="443" width="1" height="1"/><rect x="733" y="443" width="1" height="1"/><rect x="8" y="444" width="1" height="1"/><rect x="26" y="444" width="1" height="1"/><rect x="33" y="444" width="1" height="1"/><rect x="48" y="444" width="3" height="1"/><rect x="66" y="444" width="1" height="1"/><rect x="76" y="444" width="3" height="1"/><rect x="84" y="444" width="1" height="1"/><rect x="90" y="444" width="1" height="1"/><rect x="101" y="444" width="1" height="1"/><rect x="338" y="444" width="1" height="1"/><rect x="345" y="444" width="1" height="1"/><rect x="369" y="444" width="3" height="1"/><rect x="375" y="444" width="1" height="1"/><rect x="574" y="444" width="5" height="1"/><rect x="589" y="444" width="1" height="1"/><rect x="592" y="444" width="1" height="1"/><rect x="605" y="444" width="1" height="1"/><rect x="611" y="444" width="1" height="1"/><rect x="633" y="444" width="1" height="1"/><rect x="680" y="444" width="2" height="1"/><rect x="683" y="444" width="2" height="1"/><rect x="704" y="444" width="1" height="1"/><rect x="734" y="444" width="1" height="1"/><rect x="750" y="444" width="3" height="1"/><rect x="9" y="445" width="1" height="1"/><rect x="25" y="445" width="1" height="1"/><rect x="27" y="445" width="1" height="1"/><rect x="32" y="445" width="1" height="1"/><rect x="85" y="445" width="5" height="1"/><rect x="91" y="445" width="1" height="1"/><rect x="100" y="445" width="1" height="1"/><rect x="338" y="445" width="1" height="1"/><rect x="344" y="445" width="1" height="1"/><rect x="372" y="445" width="3" height="1"/><rect x="590" y="445" width="2" height="1"/><rect x="605" y="445" width="1" height="1"/><rect x="610" y="445" width="1" height="1"/><rect x="634" y="445" width="1" height="1"/><rect x="670" y="445" width="1" height="1"/><rect x="679" y="445" width="1" height="1"/><rect x="685" y="445" width="2" height="1"/><rect x="704" y="445" width="1" height="1"/><rect x="734" y="445" width="3" height="1"/><rect x="749" y="445" width="1" height="1"/><rect x="753" y="445" width="2" height="1"/><rect x="794" y="445" width="2" height="1"/><rect x="801" y="445" width="8" height="1"/><rect x="10" y="446" width="2" height="1"/><rect x="24" y="446" width="1" height="1"/><rect x="28" y="446" width="1" height="1"/><rect x="31" y="446" width="1" height="1"/><rect x="92" y="446" width="2" height="1"/><rect x="100" y="446" width="1" height="1"/><rect x="339" y="446" width="1" height="1"/><rect x="344" y="446" width="1" height="1"/><rect x="606" y="446" width="4" height="1"/><rect x="634" y="446" width="1" height="1"/><rect x="668" y="446" width="2" height="1"/><rect x="671" y="446" width="1" height="1"/><rect x="678" y="446" width="1" height="1"/><rect x="687" y="446" width="2" height="1"/><rect x="703" y="446" width="1" height="1"/><rect x="737" y="446" width="7" height="1"/><rect x="748" y="446" width="1" height="1"/><rect x="755" y="446" width="2" height="1"/><rect x="793" y="446" width="1" height="1"/><rect x="796" y="446" width="2" height="1"/><rect x="799" y="446" width="2" height="1"/><rect x="809" y="446" width="2" height="1"/><rect x="818" y="446" width="2" height="1"/><rect x="12" y="447" width="1" height="1"/><rect x="23" y="447" width="1" height="1"/><rect x="29" y="447" width="2" height="1"/><rect x="94" y="447" width="2" height="1"/><rect x="99" y="447" width="1" height="1"/><rect x="340" y="447" width="1" height="1"/><rect x="343" y="447" width="1" height="1"/><rect x="606" y="447" width="1" height="1"/><rect x="635" y="447" width="1" height="1"/><rect x="649" y="447" width="6" height="1"/><rect x="667" y="447" width="1" height="1"/><rect x="672" y="447" width="1" height="1"/><rect x="677" y="447" width="1" height="1"/><rect x="689" y="447" width="11" height="1"/><rect x="703" y="447" width="1" height="1"/><rect x="744" y="447" width="1" height="1"/><rect x="747" y="447" width="1" height="1"/><rect x="757" y="447" width="1" height="1"/><rect x="760" y="447" width="3" height="1"/><rect x="793" y="447" width="1" height="1"/><rect x="798" y="447" width="1" height="1"/><rect x="811" y="447" width="1" height="1"/><rect x="817" y="447" width="1" height="1"/><rect x="820" y="447" width="2" height="1"/><rect x="13" y="448" width="1" height="1"/><rect x="18" y="448" width="5" height="1"/><rect x="30" y="448" width="1" height="1"/><rect x="96" y="448" width="3" height="1"/><rect x="341" y="448" width="1" height="1"/><rect x="343" y="448" width="1" height="1"/><rect x="636" y="448" width="1" height="1"/><rect x="646" y="448" width="3" height="1"/><rect x="655" y="448" width="1" height="1"/><rect x="666" y="448" width="1" height="1"/><rect x="673" y="448" width="1" height="1"/><rect x="676" y="448" width="1" height="1"/><rect x="700" y="448" width="3" height="1"/><rect x="745" y="448" width="2" height="1"/><rect x="758" y="448" width="2" height="1"/><rect x="763" y="448" width="1" height="1"/><rect x="792" y="448" width="1" height="1"/><rect x="812" y="448" width="1" height="1"/><rect x="816" y="448" width="1" height="1"/><rect x="822" y="448" width="3" height="1"/><rect x="14" y="449" width="4" height="1"/><rect x="98" y="449" width="1" height="1"/><rect x="342" y="449" width="1" height="1"/><rect x="636" y="449" width="1" height="1"/><rect x="644" y="449" width="2" height="1"/><rect x="656" y="449" width="1" height="1"/><rect x="664" y="449" width="2" height="1"/><rect x="673" y="449" width="1" height="1"/><rect x="675" y="449" width="1" height="1"/><rect x="763" y="449" width="1" height="1"/><rect x="791" y="449" width="1" height="1"/><rect x="813" y="449" width="1" height="1"/><rect x="815" y="449" width="1" height="1"/><rect x="825" y="449" width="2" height="1"/><rect x="637" y="450" width="1" height="1"/><rect x="642" y="450" width="2" height="1"/><rect x="657" y="450" width="2" height="1"/><rect x="663" y="450" width="1" height="1"/><rect x="674" y="450" width="1" height="1"/><rect x="764" y="450" width="1" height="1"/><rect x="790" y="450" width="1" height="1"/><rect x="814" y="450" width="1" height="1"/><rect x="826" y="450" width="1" height="1"/><rect x="637" y="451" width="1" height="1"/><rect x="639" y="451" width="3" height="1"/><rect x="659" y="451" width="4" height="1"/><rect x="765" y="451" width="1" height="1"/><rect x="790" y="451" width="1" height="1"/><rect x="827" y="451" width="1" height="1"/><rect x="638" y="452" width="1" height="1"/><rect x="765" y="452" width="1" height="1"/><rect x="789" y="452" width="1" height="1"/><rect x="827" y="452" width="1" height="1"/><rect x="766" y="453" width="3" height="1"/><rect x="788" y="453" width="1" height="1"/><rect x="828" y="453" width="1" height="1"/><rect x="769" y="454" width="3" height="1"/><rect x="781" y="454" width="4" height="1"/><rect x="787" y="454" width="1" height="1"/><rect x="828" y="454" width="1" height="1"/><rect x="842" y="454" width="3" height="1"/><rect x="772" y="455" width="2" height="1"/><rect x="779" y="455" width="2" height="1"/><rect x="785" y="455" width="2" height="1"/><rect x="829" y="455" width="1" height="1"/><rect x="841" y="455" width="1" height="1"/><rect x="845" y="455" width="2" height="1"/><rect x="774" y="456" width="5" height="1"/><rect x="829" y="456" width="1" height="1"/><rect x="841" y="456" width="1" height="1"/><rect x="829" y="457" width="1" height="1"/><rect x="840" y="457" width="1" height="1"/><rect x="830" y="458" width="1" height="1"/><rect x="840" y="458" width="1" height="1"/><rect x="831" y="459" width="1" height="1"/><rect x="839" y="459" width="1" height="1"/><rect x="832" y="460" width="2" height="1"/><rect x="839" y="460" width="1" height="1"/><rect x="834" y="461" width="5" height="1"/></g>
<g shape-rendering="crispEdges" stroke="#000" stroke-width="1">
<line x1="942" y1="7.5" x2="947" y2="7.5"/>
<line x1="942" y1="39.5" x2="947" y2="39.5"/>
<line x1="942" y1="71.5" x2="947" y2="71.5"/>
<line x1="942" y1="103.5" x2="947" y2="103.5"/>
<line x1="942" y1="135.5" x2="947" y2="135.5"/>
<line x1="942" y1="167.5" x2="947" y2="167.5"/>
<line x1="942" y1="199.5" x2="947" y2="199.5"/>
<line x1="942" y1="231.5" x2="947" y2="231.5"/>
<line x1="942" y1="263.5" x2="947" y2="263.5"/>
<line x1="942" y1="295.5" x2="947" y2="295.5"/>
<line x1="942" y1="327.5" x2="947" y2="327.5"/>
<line x1="942" y1="359.5" x2="947" y2="359.5"/>
<line x1="942" y1="394.5" x2="947" y2="394.5"/>
<line x1="942" y1="419.5" x2="947" y2="419.5"/>
<line x1="942" y1="453.5" x2="947" y2="453.5"/>
<line x1="942" y1="479.5" x2="947" y2="479.5"/>
<line x1="2.5" y1="479" x2="2.5" y2="484"/>
<line x1="66.5" y1="479" x2="66.5" y2="484"/>
<line x1="130.5" y1="479" x2="130.5" y2="484"/>
<line x1="194.5" y1="479" x2="194.5" y2="484"/>
<line x1="258.5" y1="479" x2="258.5" y2="484"/>
<line x1="322.5" y1="479" x2="322.5" y2="484"/>
<line x1="386.5" y1="479" x2="386.5" y2="484"/>
<line x1="450.5" y1="479" x2="450.5" y2="484"/>
<line x1="514.5" y1="479" x2="514.5" y2="484"/>
<line x1="578.5" y1="479" x2="578.5" y2="484"/>
<line x1="642.5" y1="479" x2="642.5" y2="484"/>
<line x1="706.5" y1="479" x2="706.5" y2="484"/>
<line x1="770.5" y1="479" x2="770.5" y2="484"/>
<line x1="834.5" y1="479" x2="834.5" y2="484"/>
</g>
<text xml:space="preserve" style="white-space:pre" transform="translate(947.6,11) scale(0.92,1)" font-family='"Liberation Sans", sans-serif' font-size="9.8" fill="#000" >69754.87</text>
<text xml:space="preserve" style="white-space:pre" transform="translate(947.6,43) scale(0.92,1)" font-family='"Liberation Sans", sans-serif' font-size="9.8" fill="#000" >65899.70</text>
<text xml:space="preserve" style="white-space:pre" transform="translate(947.6,75) scale(0.92,1)" font-family='"Liberation Sans", sans-serif' font-size="9.8" fill="#000" >62044.53</text>
<text xml:space="preserve" style="white-space:pre" transform="translate(947.6,107) scale(0.92,1)" font-family='"Liberation Sans", sans-serif' font-size="9.8" fill="#000" >58189.36</text>
<text xml:space="preserve" style="white-space:pre" transform="translate(947.6,139) scale(0.92,1)" font-family='"Liberation Sans", sans-serif' font-size="9.8" fill="#000" >54334.19</text>
<text xml:space="preserve" style="white-space:pre" transform="translate(947.6,171) scale(0.92,1)" font-family='"Liberation Sans", sans-serif' font-size="9.8" fill="#000" >50479.02</text>
<text xml:space="preserve" style="white-space:pre" transform="translate(947.6,203) scale(0.92,1)" font-family='"Liberation Sans", sans-serif' font-size="9.8" fill="#000" >46623.85</text>
<text xml:space="preserve" style="white-space:pre" transform="translate(947.6,235) scale(0.92,1)" font-family='"Liberation Sans", sans-serif' font-size="9.8" fill="#000" >42768.68</text>
<text xml:space="preserve" style="white-space:pre" transform="translate(947.6,267) scale(0.92,1)" font-family='"Liberation Sans", sans-serif' font-size="9.8" fill="#000" >38913.51</text>
<text xml:space="preserve" style="white-space:pre" transform="translate(947.6,299) scale(0.92,1)" font-family='"Liberation Sans", sans-serif' font-size="9.8" fill="#000" >35058.34</text>
<text xml:space="preserve" style="white-space:pre" transform="translate(947.6,331) scale(0.92,1)" font-family='"Liberation Sans", sans-serif' font-size="9.8" fill="#000" >31203.17</text>
<text xml:space="preserve" style="white-space:pre" transform="translate(947.6,363) scale(0.92,1)" font-family='"Liberation Sans", sans-serif' font-size="9.8" fill="#000" >27348.00</text>
<text xml:space="preserve" style="white-space:pre" transform="translate(948.4,402) scale(0.92,1)" font-family='"Liberation Sans", sans-serif' font-size="9.8" fill="#000" >100.00</text>
<text xml:space="preserve" style="white-space:pre" transform="translate(947.6,423) scale(0.92,1)" font-family='"Liberation Sans", sans-serif' font-size="9.8" fill="#000" >70.00</text>
<text xml:space="preserve" style="white-space:pre" transform="translate(947.6,457) scale(0.92,1)" font-family='"Liberation Sans", sans-serif' font-size="9.8" fill="#000" >30.00</text>
<text xml:space="preserve" style="white-space:pre" transform="translate(947.6,477) scale(0.92,1)" font-family='"Liberation Sans", sans-serif' font-size="9.8" fill="#000" >0.00</text>
<rect x="945" y="249" width="44" height="11" fill="#FF0000" shape-rendering="crispEdges"/>
<rect x="945" y="283" width="44" height="11" fill="#A0BCEB" shape-rendering="crispEdges"/>
<text xml:space="preserve" style="white-space:pre" transform="translate(947.6,258) scale(0.92,1)" font-family='"Liberation Sans", sans-serif' font-size="9.8" fill="#fff" >40000.00</text>
<text xml:space="preserve" style="white-space:pre" transform="translate(947.6,292) scale(0.92,1)" font-family='"Liberation Sans", sans-serif' font-size="9.8" fill="#fff" >35919.27</text>
<text xml:space="preserve" style="white-space:pre" transform="translate(2.6,492) scale(0.92,1)" font-family='"Liberation Sans", sans-serif' font-size="9.8" fill="#000" >16 Jun 2021</text>
<text xml:space="preserve" style="white-space:pre" transform="translate(66.6,492) scale(0.92,1)" font-family='"Liberation Sans", sans-serif' font-size="9.8" fill="#000" >8 Jul 2021</text>
<text xml:space="preserve" style="white-space:pre" transform="translate(130.6,492) scale(0.92,1)" font-family='"Liberation Sans", sans-serif' font-size="9.8" fill="#000" >30 Jul 2021</text>
<text xml:space="preserve" style="white-space:pre" transform="translate(194.6,492) scale(0.92,1)" font-family='"Liberation Sans", sans-serif' font-size="9.8" fill="#000" >15 Aug 2021</text>
<text xml:space="preserve" style="white-space:pre" transform="translate(258.6,492) scale(0.92,1)" font-family='"Liberation Sans", sans-serif' font-size="9.8" fill="#000" >31 Aug 2021</text>
<text xml:space="preserve" style="white-space:pre" transform="translate(322.6,492) scale(0.92,1)" font-family='"Liberation Sans", sans-serif' font-size="9.8" fill="#000" >16 Sep 2021</text>
<text xml:space="preserve" style="white-space:pre" transform="translate(386.6,492) scale(0.92,1)" font-family='"Liberation Sans", sans-serif' font-size="9.8" fill="#000" >2 Oct 2021</text>
<text xml:space="preserve" style="white-space:pre" transform="translate(450.6,492) scale(0.92,1)" font-family='"Liberation Sans", sans-serif' font-size="9.8" fill="#000" >18 Oct 2021</text>
<text xml:space="preserve" style="white-space:pre" transform="translate(514.6,492) scale(0.92,1)" font-family='"Liberation Sans", sans-serif' font-size="9.8" fill="#000" >3 Nov 2021</text>
<text xml:space="preserve" style="white-space:pre" transform="translate(578.6,492) scale(0.92,1)" font-family='"Liberation Sans", sans-serif' font-size="9.8" fill="#000" >19 Nov 2021</text>
<text xml:space="preserve" style="white-space:pre" transform="translate(642.6,492) scale(0.92,1)" font-family='"Liberation Sans", sans-serif' font-size="9.8" fill="#000" >5 Dec 2021</text>
<text xml:space="preserve" style="white-space:pre" transform="translate(706.6,492) scale(0.92,1)" font-family='"Liberation Sans", sans-serif' font-size="9.8" fill="#000" >21 Dec 2021</text>
<text xml:space="preserve" style="white-space:pre" transform="translate(770.6,492) scale(0.92,1)" font-family='"Liberation Sans", sans-serif' font-size="9.8" fill="#000" >6 Jan 2022</text>
<text xml:space="preserve" style="white-space:pre" transform="translate(834.6,492) scale(0.92,1)" font-family='"Liberation Sans", sans-serif' font-size="9.8" fill="#000" >22 Jan 2022</text>
<text xml:space="preserve" style="white-space:pre" transform="translate(6.2,13) scale(1.0,1)" font-family='"Liberation Sans", sans-serif' font-size="9.6" fill="#000" >BTCUSD, Daily:  Bitcoin vs US Dollar</text>
<rect x="3" y="395" width="60" height="14" fill="#fff"/>
<text xml:space="preserve" style="white-space:pre" transform="translate(5.5,406) scale(0.965,1)" font-family='"Liberation Sans", sans-serif' font-size="9.6" fill="#000" >RSI(14) 27.46</text>
<text xml:space="preserve" style="white-space:pre" transform="translate(554.0,22.8) scale(0.9,1)" font-family='"Liberation Sans", sans-serif' font-size="17.5" fill="#000" >BTCUSD,</text>
<text xml:space="preserve" style="white-space:pre" transform="translate(631.3,22.8) scale(1.05,1)" font-family='"Liberation Sans", sans-serif' font-size="17.5" fill="#000" >Daily</text>
<rect x="42" y="36" width="120" height="57" fill="#EE1116" shape-rendering="crispEdges"/>
<text x="59.8" y="68.2" font-family='"Liberation Serif", serif' font-weight="bold" font-size="33.5" fill="#fff" textLength="84.6" lengthAdjust="spacingAndGlyphs">FxPro</text>
<text x="60.6" y="83.5" font-family='"Liberation Sans", sans-serif' font-size="10.8" fill="#fff" textLength="83.2" lengthAdjust="spacingAndGlyphs">Trade Like a Pro</text>
</svg>
</body></html>
